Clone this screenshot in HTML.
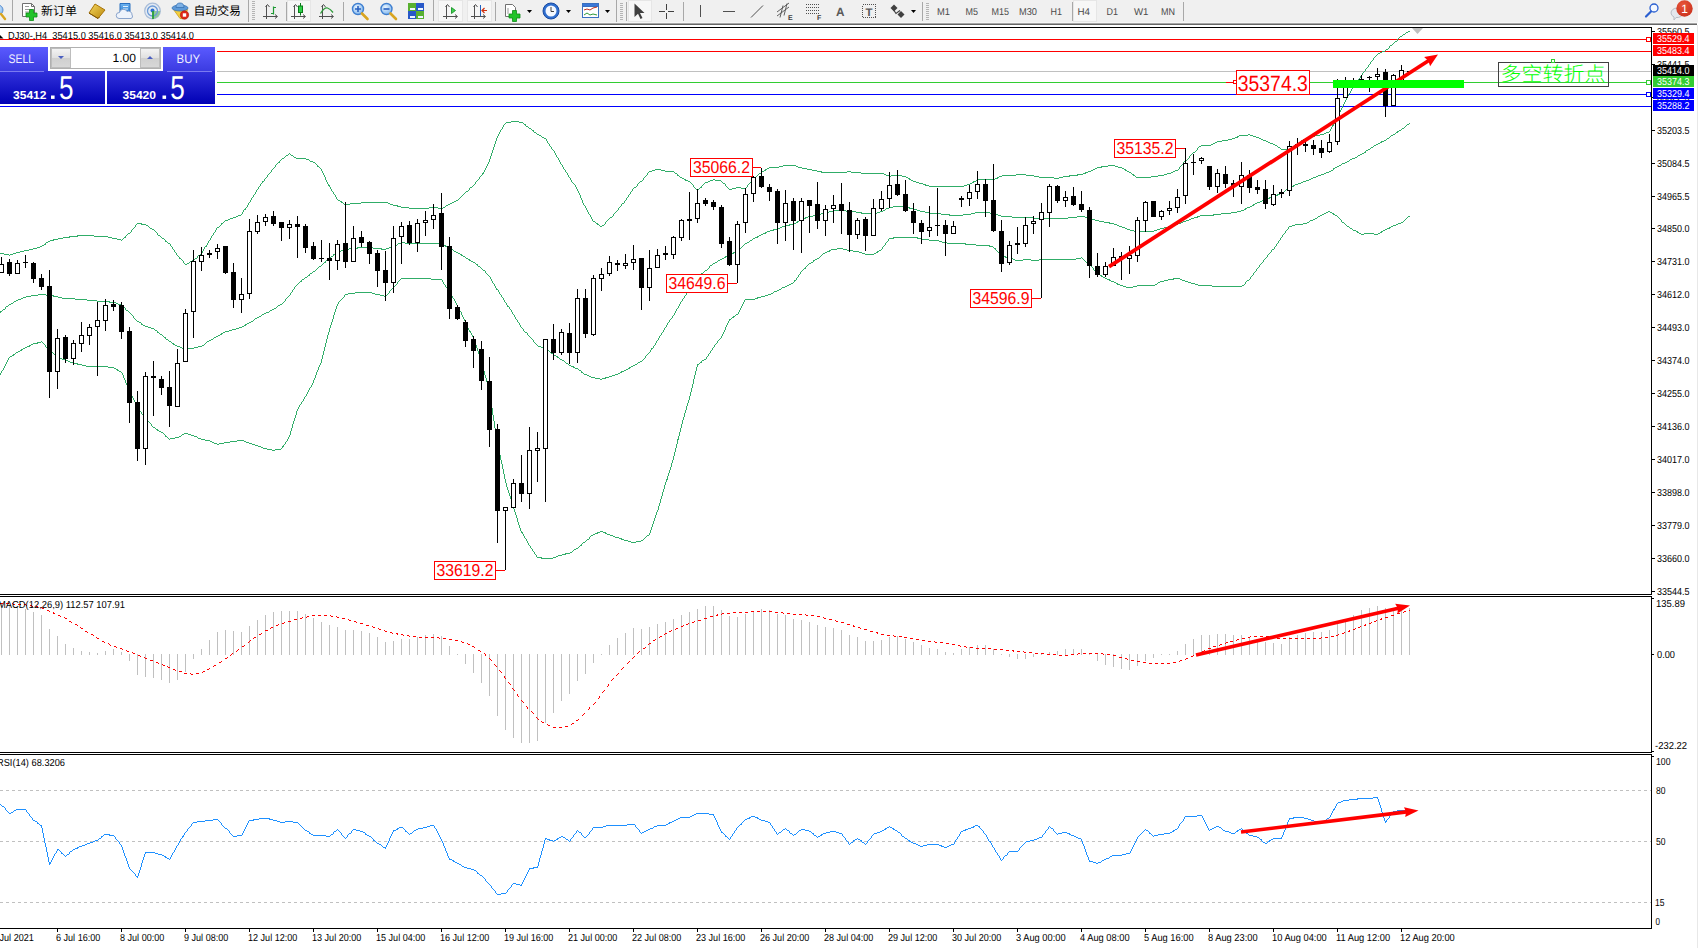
<!DOCTYPE html>
<html lang="zh-CN">
<head>
<meta charset="utf-8">
<title>DJ30-,H4</title>
<style>
html,body{margin:0;padding:0;background:#fff;overflow:hidden}
body{width:1698px;height:948px;position:relative;font-family:"Liberation Sans","Noto Sans CJK SC",sans-serif}
svg{position:absolute;left:0;top:0;display:block}
svg text{font-family:"Liberation Sans","Noto Sans CJK SC",sans-serif;white-space:pre;text-rendering:geometricPrecision}
</style>
</head>
<body>
<svg id="terminal" width="1698" height="948" viewBox="0 0 1698 948">
<defs><clipPath id="clipmain"><rect x="0" y="28" width="1651" height="566"/></clipPath></defs>
<rect x="0" y="0" width="1698" height="948" fill="#fff"/>
<rect x="1697" y="25" width="1" height="923" fill="#e8e8e8"/>
<g id="main-chart" shape-rendering="crispEdges">
<rect x="0" y="39" width="1651" height="1" fill="#ff0000" />
<rect x="0" y="51" width="1651" height="1" fill="#ff0000" />
<rect x="0" y="71" width="1651" height="1" fill="#c0c0c0" />
<rect x="0" y="82" width="1651" height="1" fill="#32cd32" />
<rect x="0" y="94" width="1651" height="1" fill="#0000ff" />
<rect x="0" y="106" width="1651" height="1" fill="#0000ff" />
<g id="bollinger" fill="none" stroke="#30ad68" stroke-width="1">
<path d="M1408 31.5h2M1406 32.5h2M1403 34.5h2M1400 36.5h2M1395 41.5h2M1390 45.5h2M1386 49.5h2M1382 51.5h3M1380 52.5h2M1378 53.5h2M1352 87.5h2M511 121.5h8M506 122.5h5M519 122.5h4M524 124.5h2M1332 125.5h2M526 126.5h2M529 128.5h2M532 130.5h2M534 132.5h2M1326 132.5h3M1324 133.5h2M537 134.5h2M1248 134.5h2M1320 134.5h4M539 135.5h2M1239 135.5h9M1250 135.5h3M1315 135.5h5M1237 136.5h2M1253 136.5h3M1311 136.5h4M542 137.5h2M1235 137.5h3M1256 137.5h3M1308 137.5h3M544 138.5h2M1232 138.5h3M1259 138.5h2M1305 138.5h3M1228 139.5h4M1261 139.5h2M1303 139.5h2M1222 140.5h6M1263 140.5h3M1301 140.5h2M1217 141.5h5M1266 141.5h2M1215 142.5h2M1268 142.5h2M1299 142.5h2M1213 143.5h2M1270 143.5h3M1297 143.5h2M1211 144.5h2M1273 144.5h2M1201 145.5h10M1275 145.5h2M1294 145.5h2M1199 146.5h2M1278 147.5h2M1291 147.5h2M1281 149.5h9M1193 152.5h2M286 155.5h2M291 155.5h2M294 157.5h2M282 158.5h2M296 158.5h10M306 159.5h3M1185 160.5h2M310 161.5h3M278 162.5h2M313 162.5h2M783 165.5h13M1108 165.5h7M317 166.5h2M779 166.5h4M796 166.5h2M1101 166.5h7M1115 166.5h3M769 167.5h10M798 167.5h4M1097 167.5h5M1118 167.5h4M767 168.5h2M802 168.5h5M1095 168.5h2M1122 168.5h2M655 169.5h6M765 169.5h2M807 169.5h5M1093 169.5h2M1124 169.5h2M652 170.5h3M661 170.5h4M764 170.5h2M812 170.5h5M1091 170.5h2M1125 170.5h2M1175 170.5h3M649 171.5h3M665 171.5h9M762 171.5h2M817 171.5h5M847 171.5h4M1088 171.5h3M1127 171.5h2M1173 171.5h2M821 172.5h26M851 172.5h10M1085 172.5h3M1129 172.5h2M1171 172.5h2M482 173.5h2M675 173.5h2M759 173.5h2M861 173.5h23M1083 173.5h3M1167 173.5h4M884 174.5h2M1016 174.5h10M1077 174.5h6M1132 174.5h2M1164 174.5h3M677 175.5h2M886 175.5h3M891 175.5h11M1002 175.5h14M1026 175.5h8M1069 175.5h9M1133 175.5h2M1158 175.5h6M889 176.5h2M902 176.5h4M999 176.5h3M1034 176.5h5M1063 176.5h7M1151 176.5h7M680 177.5h2M754 177.5h2M906 177.5h2M997 177.5h2M1039 177.5h15M1059 177.5h4M1136 177.5h15M682 178.5h2M908 178.5h2M995 178.5h3M1054 178.5h5M684 179.5h2M713 179.5h2M909 179.5h2M978 179.5h17M685 180.5h3M710 180.5h3M715 180.5h6M911 180.5h2M976 180.5h2M262 181.5h2M640 181.5h2M688 181.5h2M708 181.5h2M913 181.5h3M973 181.5h3M705 182.5h3M916 182.5h3M972 182.5h2M723 183.5h2M919 183.5h4M970 183.5h2M923 184.5h3M967 184.5h3M328 185.5h2M925 185.5h4M964 185.5h3M929 186.5h35M470 187.5h2M634 187.5h2M700 187.5h2M736 187.5h5M732 188.5h4M741 188.5h5M729 189.5h3M466 191.5h2M338 200.5h2M456 200.5h2M340 201.5h2M454 201.5h2M341 202.5h2M361 202.5h27M452 202.5h2M350 203.5h11M388 203.5h2M450 203.5h2M622 203.5h2M344 204.5h6M390 204.5h3M448 204.5h2M393 205.5h5M446 205.5h2M397 206.5h4M401 207.5h8M429 207.5h9M443 207.5h2M409 208.5h20M438 208.5h5M244 209.5h2M238 215.5h3M236 216.5h2M233 217.5h3M610 217.5h2M230 218.5h3M228 219.5h2M225 220.5h3M593 221.5h2M137 223.5h5M221 223.5h2M596 223.5h2M141 224.5h5M597 224.5h2M146 225.5h2M602 225.5h2M600 226.5h2M217 227.5h2M150 228.5h2M152 229.5h2M128 233.5h2M77 235.5h17M158 235.5h2M69 236.5h9M94 236.5h14M63 237.5h7M108 237.5h4M124 237.5h2M58 238.5h5M112 238.5h5M162 238.5h2M53 239.5h5M117 239.5h4M50 240.5h4M48 241.5h2M165 241.5h2M46 242.5h2M168 243.5h2M44 244.5h2M42 245.5h2M40 246.5h2M205 246.5h2M37 247.5h3M33 248.5h4M29 249.5h4M24 250.5h5M20 251.5h4M16 252.5h4M0 253.5h4M13 253.5h3M4 254.5h5M10 254.5h3M198 255.5h2M179 258.5h2M195 258.5h2M192 260.5h2M190 261.5h2M187 263.5h2M185 264.5h2M9.5 255v1M45.5 243v1M121.5 240v1M122.5 239v1M123.5 238v1M125.5 236v1M126.5 235v1M127.5 234v1M130.5 232v1M131.5 230v2M132.5 229v1M133.5 228v1M134.5 227v1M135.5 225v2M136.5 224v1M148.5 226v1M149.5 227v1M154.5 230v1M155.5 231v1M156.5 232v1M157.5 233v2M160.5 236v1M161.5 237v1M164.5 239v1M165.5 240v1M167.5 242v1M170.5 244v2M171.5 246v1M172.5 247v2M173.5 249v1M174.5 250v2M175.5 252v1M176.5 253v2M177.5 255v1M178.5 256v1M179.5 257v1M181.5 259v1M182.5 260v1M183.5 261v2M184.5 263v1M189.5 262v1M194.5 259v1M197.5 256v2M200.5 254v1M201.5 253v1M202.5 251v2M203.5 249v2M204.5 247v2M206.5 245v1M207.5 243v2M208.5 241v2M209.5 240v1M210.5 238v2M211.5 236v2M212.5 235v1M213.5 233v2M214.5 232v1M215.5 230v2M216.5 228v2M219.5 226v1M220.5 225v1M221.5 224v1M223.5 222v1M224.5 221v1M241.5 214v1M242.5 212v2M243.5 210v2M245.5 208v1M246.5 207v1M247.5 205v2M248.5 203v2M249.5 202v1M250.5 200v2M251.5 198v2M252.5 197v1M253.5 195v2M254.5 194v1M255.5 192v2M256.5 190v2M257.5 189v1M258.5 187v2M259.5 186v1M260.5 184v2M261.5 183v1M262.5 182v1M264.5 179v2M265.5 178v1M266.5 177v1M267.5 175v2M268.5 174v1M269.5 173v1M270.5 172v1M271.5 170v2M272.5 169v1M273.5 168v1M274.5 167v1M275.5 165v2M276.5 164v1M277.5 163v1M279.5 161v1M280.5 160v1M281.5 159v1M284.5 157v1M285.5 156v1M288.5 154v1M289.5 153v1M290.5 154v1M293.5 156v1M309.5 160v1M315.5 163v1M316.5 164v1M317.5 165v1M319.5 167v1M320.5 168v1M321.5 169v2M322.5 171v2M323.5 173v2M324.5 175v2M325.5 177v3M326.5 180v2M327.5 182v2M328.5 184v1M329.5 186v1M330.5 187v2M331.5 189v2M332.5 191v1M333.5 192v2M334.5 194v1M335.5 195v2M336.5 197v2M337.5 199v1M343.5 203v1M445.5 206v1M458.5 199v1M459.5 198v1M460.5 197v1M461.5 196v1M462.5 195v1M463.5 194v1M464.5 193v1M465.5 192v1M468.5 190v1M469.5 188v2M472.5 186v1M473.5 185v1M474.5 184v1M475.5 182v2M476.5 181v1M477.5 180v1M478.5 179v1M479.5 177v2M480.5 176v1M481.5 175v1M482.5 174v1M483.5 172v1M484.5 170v2M485.5 168v2M486.5 166v2M487.5 164v2M488.5 162v2M489.5 159v3M490.5 156v3M491.5 153v3M492.5 150v3M493.5 147v3M494.5 144v3M495.5 141v3M496.5 138v3M497.5 136v2M498.5 134v2M499.5 132v2M500.5 130v2M501.5 129v1M502.5 127v2M503.5 125v2M504.5 124v1M505.5 123v1M523.5 123v1M525.5 125v1M528.5 127v1M531.5 129v1M533.5 131v1M536.5 133v1M541.5 136v1M546.5 139v2M547.5 141v2M548.5 143v1M549.5 144v2M550.5 146v1M551.5 147v2M552.5 149v1M553.5 150v1M554.5 151v2M555.5 153v2M556.5 155v2M557.5 157v1M558.5 158v2M559.5 160v2M560.5 162v2M561.5 164v1M562.5 165v2M563.5 167v2M564.5 169v1M565.5 170v2M566.5 172v1M567.5 173v2M568.5 175v2M569.5 177v1M570.5 178v2M571.5 180v2M572.5 182v1M573.5 183v1M574.5 184v1M575.5 185v2M576.5 187v2M577.5 189v2M578.5 191v2M579.5 193v2M580.5 195v3M581.5 198v2M582.5 200v3M583.5 203v2M584.5 205v1M585.5 206v2M586.5 208v2M587.5 210v2M588.5 212v2M589.5 214v1M590.5 215v2M591.5 217v2M592.5 219v2M595.5 222v1M599.5 225v1M604.5 224v1M605.5 222v2M606.5 221v1M607.5 220v1M608.5 219v1M609.5 218v1M612.5 216v1M613.5 214v2M614.5 213v1M615.5 212v1M616.5 211v1M617.5 210v1M618.5 208v2M619.5 207v1M620.5 206v1M621.5 204v2M624.5 201v2M625.5 200v1M626.5 198v2M627.5 197v1M628.5 195v2M629.5 194v1M630.5 192v2M631.5 191v1M632.5 189v2M633.5 188v1M636.5 186v1M637.5 184v2M638.5 183v1M639.5 182v1M642.5 180v1M643.5 178v2M644.5 177v1M645.5 176v1M646.5 175v1M647.5 173v2M648.5 172v1M674.5 172v1M677.5 174v1M679.5 176v1M690.5 182v1M691.5 183v1M692.5 184v1M693.5 185v2M694.5 187v1M695.5 188v1M696.5 189v1M697.5 190v1M698.5 189v1M699.5 188v1M701.5 186v1M702.5 185v1M703.5 184v1M704.5 183v1M721.5 181v1M722.5 182v1M725.5 184v2M726.5 186v1M727.5 187v1M728.5 188v1M746.5 187v1M747.5 185v2M748.5 184v1M749.5 183v1M750.5 182v1M751.5 180v2M752.5 179v1M753.5 178v1M756.5 176v1M757.5 175v1M758.5 174v1M761.5 172v1M1131.5 173v1M1135.5 176v1M1178.5 169v1M1179.5 167v2M1180.5 166v1M1181.5 165v1M1182.5 164v1M1183.5 162v2M1184.5 161v1M1187.5 159v1M1188.5 158v1M1189.5 156v2M1190.5 155v1M1191.5 154v1M1192.5 153v1M1195.5 151v1M1196.5 150v1M1197.5 148v2M1198.5 147v1M1277.5 146v1M1280.5 148v1M1290.5 148v1M1293.5 146v1M1296.5 144v1M1301.5 141v1M1329.5 131v1M1330.5 129v2M1331.5 127v2M1332.5 126v1M1333.5 124v1M1334.5 122v2M1335.5 120v2M1336.5 118v2M1337.5 116v2M1338.5 114v2M1339.5 112v2M1340.5 110v2M1341.5 108v2M1342.5 106v2M1343.5 104v2M1344.5 102v2M1345.5 100v2M1346.5 98v2M1347.5 96v2M1348.5 94v2M1349.5 93v1M1350.5 91v2M1351.5 89v2M1352.5 88v1M1354.5 85v2M1355.5 84v1M1356.5 82v2M1357.5 81v1M1358.5 79v2M1359.5 78v1M1360.5 76v2M1361.5 75v1M1362.5 73v2M1363.5 72v1M1364.5 71v1M1365.5 69v2M1366.5 68v1M1367.5 67v1M1368.5 65v2M1369.5 64v1M1370.5 62v2M1371.5 61v1M1372.5 60v1M1373.5 58v2M1374.5 57v1M1375.5 56v1M1376.5 55v1M1377.5 54v1M1385.5 50v1M1388.5 48v1M1389.5 46v2M1392.5 44v1M1393.5 43v1M1394.5 42v1M1397.5 39v2M1398.5 38v1M1399.5 37v1M1402.5 35v1M1405.5 33v1"/>
<path d="M1407 124.5h2M1402 128.5h2M1399 130.5h2M1397 131.5h2M1396 132.5h2M1393 134.5h2M1391 135.5h2M1387 138.5h2M1384 140.5h2M1381 141.5h3M1380 142.5h2M1378 143.5h2M1376 144.5h2M1374 145.5h2M1371 147.5h2M1368 149.5h2M1366 150.5h2M1364 152.5h2M1362 153.5h2M1360 154.5h2M1358 155.5h2M1355 157.5h2M1352 158.5h3M1350 159.5h2M1347 161.5h2M1345 162.5h2M1342 163.5h3M1339 165.5h2M1337 166.5h2M1335 167.5h2M1333 168.5h2M1331 170.5h2M1329 171.5h2M1326 172.5h3M1324 173.5h2M1321 174.5h3M1318 175.5h3M1316 176.5h2M1313 177.5h3M1311 178.5h2M1309 179.5h2M1306 180.5h3M1303 181.5h3M1301 182.5h2M1298 183.5h3M1295 184.5h3M1293 185.5h2M1292 186.5h2M1289 187.5h3M1286 189.5h2M1282 192.5h2M1280 193.5h2M1277 194.5h3M1275 195.5h3M1272 196.5h3M1269 197.5h3M1268 198.5h2M1265 199.5h3M1262 200.5h3M1260 201.5h2M1257 202.5h3M1255 203.5h2M1253 204.5h2M1252 205.5h2M893 206.5h13M1250 206.5h2M889 207.5h4M906 207.5h4M1247 207.5h3M886 208.5h3M909 208.5h4M1245 208.5h2M913 209.5h4M1244 209.5h2M833 210.5h13M883 210.5h2M917 210.5h3M1241 210.5h3M829 211.5h4M846 211.5h10M880 211.5h3M920 211.5h5M1237 211.5h4M824 212.5h5M856 212.5h6M877 212.5h3M925 212.5h4M975 212.5h15M1231 212.5h6M821 213.5h3M861 213.5h16M929 213.5h12M971 213.5h4M990 213.5h5M1221 213.5h10M817 214.5h4M941 214.5h9M963 214.5h8M995 214.5h3M1213 214.5h8M813 215.5h4M949 215.5h14M998 215.5h3M1200 215.5h14M808 216.5h5M1001 216.5h11M1077 216.5h8M1197 216.5h3M805 217.5h3M1012 217.5h22M1068 217.5h9M1085 217.5h3M1194 217.5h4M804 218.5h2M1034 218.5h34M1088 218.5h4M1191 218.5h3M801 219.5h3M1092 219.5h3M1189 219.5h2M799 220.5h2M1095 220.5h4M1186 220.5h3M797 221.5h2M1099 221.5h5M1183 221.5h3M796 222.5h2M1104 222.5h6M1181 222.5h2M794 223.5h2M1109 223.5h5M1178 223.5h3M789 224.5h5M1114 224.5h3M1174 224.5h4M785 225.5h5M1117 225.5h2M1172 225.5h2M782 226.5h3M1119 226.5h3M1168 226.5h4M780 227.5h2M1122 227.5h3M1164 227.5h4M777 228.5h3M1125 228.5h2M1160 228.5h4M773 229.5h4M1127 229.5h3M1157 229.5h3M770 230.5h4M1130 230.5h4M1154 230.5h3M767 231.5h3M1134 231.5h20M765 232.5h2M763 233.5h3M761 234.5h2M759 235.5h2M757 236.5h2M755 237.5h3M753 238.5h2M750 240.5h2M401 242.5h4M747 242.5h2M398 243.5h3M405 243.5h36M745 243.5h2M441 244.5h3M394 245.5h3M444 245.5h2M391 246.5h3M445 246.5h2M357 247.5h16M389 247.5h2M447 247.5h2M349 248.5h9M373 248.5h9M386 248.5h3M449 248.5h2M344 249.5h5M381 249.5h5M451 249.5h2M341 250.5h3M338 251.5h3M454 251.5h2M735 251.5h3M336 252.5h2M456 252.5h2M733 252.5h2M458 253.5h2M731 253.5h3M333 254.5h2M460 254.5h2M729 254.5h2M461 255.5h2M727 255.5h2M331 256.5h2M463 256.5h2M725 256.5h2M724 257.5h2M328 258.5h2M466 258.5h2M722 258.5h2M468 259.5h2M720 259.5h2M469 260.5h2M718 260.5h2M471 261.5h2M324 262.5h2M473 262.5h2M715 262.5h2M713 263.5h2M476 264.5h2M710 265.5h2M319 266.5h2M478 266.5h2M483 270.5h2M705 270.5h2M313 271.5h2M310 273.5h2M701 273.5h2M308 275.5h2M698 276.5h2M305 277.5h2M302 279.5h2M300 281.5h2M496 289.5h2M689 289.5h2M38 294.5h8M31 295.5h7M46 295.5h8M26 296.5h5M53 296.5h5M23 297.5h3M58 297.5h4M21 298.5h2M62 298.5h13M18 299.5h3M75 299.5h12M16 300.5h2M87 300.5h10M14 301.5h2M97 301.5h13M109 302.5h7M11 303.5h2M116 303.5h2M9 304.5h2M118 304.5h3M280 304.5h2M121 305.5h2M278 305.5h2M6 306.5h2M507 306.5h2M274 308.5h2M3 309.5h2M272 309.5h2M126 310.5h2M270 310.5h2M0 311.5h2M266 312.5h3M264 313.5h2M262 314.5h2M259 316.5h2M257 317.5h2M255 318.5h2M137 321.5h2M251 321.5h2M139 322.5h2M249 322.5h2M247 323.5h2M141 324.5h2M245 324.5h2M143 325.5h2M244 325.5h2M145 326.5h3M242 326.5h2M148 327.5h3M239 327.5h3M151 328.5h3M236 328.5h3M232 329.5h4M155 330.5h2M229 330.5h3M225 331.5h4M157 332.5h2M223 332.5h2M525 332.5h2M221 333.5h2M160 334.5h2M220 334.5h2M218 335.5h2M216 336.5h2M164 337.5h2M214 337.5h2M166 339.5h2M211 339.5h2M209 340.5h2M169 341.5h2M207 341.5h2M172 343.5h2M173 344.5h2M175 345.5h2M202 345.5h2M177 346.5h3M198 346.5h4M538 346.5h3M180 347.5h2M194 347.5h4M541 347.5h2M182 348.5h12M543 348.5h3M651 348.5h2M546 349.5h2M551 353.5h2M554 355.5h2M556 356.5h2M557 357.5h2M560 359.5h2M562 360.5h2M640 361.5h2M638 362.5h2M566 363.5h2M635 364.5h2M569 365.5h2M633 365.5h2M571 366.5h3M631 366.5h2M573 367.5h2M629 367.5h2M575 368.5h3M628 368.5h2M626 369.5h2M579 370.5h2M624 370.5h2M621 371.5h3M581 372.5h2M620 372.5h2M618 373.5h2M584 374.5h3M615 374.5h3M587 375.5h2M612 375.5h3M589 376.5h2M609 376.5h3M591 377.5h4M605 377.5h4M595 378.5h5M602 378.5h4M600 379.5h2M0.5 312v1M2.5 310v1M5.5 307v2M8.5 305v1M13.5 302v1M123.5 306v1M124.5 307v1M125.5 308v2M128.5 311v1M129.5 312v1M130.5 313v1M131.5 314v1M132.5 315v1M133.5 316v2M134.5 318v1M135.5 319v1M136.5 320v1M141.5 323v1M154.5 329v1M157.5 331v1M159.5 333v1M162.5 335v1M163.5 336v1M165.5 338v1M168.5 340v1M171.5 342v1M204.5 344v1M205.5 343v1M206.5 342v1M213.5 338v1M253.5 320v1M254.5 319v1M261.5 315v1M269.5 311v1M276.5 307v1M277.5 306v1M282.5 303v1M283.5 302v1M284.5 301v1M285.5 299v2M286.5 298v1M287.5 297v1M288.5 296v1M289.5 295v1M290.5 293v2M291.5 292v1M292.5 290v2M293.5 289v1M294.5 287v2M295.5 286v1M296.5 285v1M297.5 284v1M298.5 283v1M299.5 282v1M301.5 280v1M304.5 278v1M307.5 276v1M309.5 274v1M312.5 272v1M315.5 270v1M316.5 269v1M317.5 268v1M318.5 267v1M321.5 265v1M322.5 264v1M323.5 263v1M325.5 261v1M326.5 260v1M327.5 259v1M330.5 257v1M333.5 255v1M335.5 253v1M397.5 244v1M453.5 250v1M465.5 257v1M475.5 263v1M477.5 265v1M480.5 267v1M481.5 268v1M482.5 269v1M485.5 271v2M486.5 273v1M487.5 274v1M488.5 275v1M489.5 276v1M490.5 277v2M491.5 279v2M492.5 281v2M493.5 283v1M494.5 284v2M495.5 286v2M496.5 288v1M498.5 290v2M499.5 292v2M500.5 294v1M501.5 295v2M502.5 297v1M503.5 298v2M504.5 300v2M505.5 302v1M506.5 303v2M507.5 305v1M509.5 307v2M510.5 309v1M511.5 310v2M512.5 312v2M513.5 314v1M514.5 315v2M515.5 317v2M516.5 319v1M517.5 320v2M518.5 322v1M519.5 323v2M520.5 325v2M521.5 327v1M522.5 328v1M523.5 329v2M524.5 331v1M527.5 333v2M528.5 335v1M529.5 336v1M530.5 337v1M531.5 338v1M532.5 339v1M533.5 340v2M534.5 342v1M535.5 343v1M536.5 344v1M537.5 345v1M548.5 350v1M549.5 351v1M550.5 352v1M553.5 354v1M559.5 358v1M564.5 361v1M565.5 362v1M568.5 364v1M578.5 369v1M581.5 371v1M583.5 373v1M637.5 363v1M642.5 360v1M643.5 359v1M644.5 358v1M645.5 356v2M646.5 355v1M647.5 354v1M648.5 353v1M649.5 352v1M650.5 350v2M651.5 349v1M653.5 346v2M654.5 345v1M655.5 343v2M656.5 341v2M657.5 340v1M658.5 338v2M659.5 336v2M660.5 335v1M661.5 333v2M662.5 332v1M663.5 330v2M664.5 328v2M665.5 327v1M666.5 325v2M667.5 323v2M668.5 322v1M669.5 320v2M670.5 319v1M671.5 318v1M672.5 316v2M673.5 315v1M674.5 313v2M675.5 311v2M676.5 309v2M677.5 308v1M678.5 306v2M679.5 304v2M680.5 302v2M681.5 301v1M682.5 299v2M683.5 298v1M684.5 296v2M685.5 295v1M686.5 293v2M687.5 292v1M688.5 290v2M690.5 288v1M691.5 286v2M692.5 285v1M693.5 283v2M694.5 282v1M695.5 280v2M696.5 278v2M697.5 277v1M700.5 275v1M701.5 274v1M703.5 272v1M704.5 271v1M707.5 269v1M708.5 268v1M709.5 266v2M712.5 264v1M717.5 261v1M738.5 250v1M739.5 249v1M740.5 248v1M741.5 247v1M742.5 246v1M743.5 245v1M744.5 244v1M749.5 241v1M752.5 239v1M885.5 209v1M1284.5 191v1M1285.5 190v1M1288.5 188v1M1333.5 169v1M1341.5 164v1M1349.5 160v1M1357.5 156v1M1365.5 151v1M1370.5 148v1M1373.5 146v1M1386.5 139v1M1389.5 137v1M1390.5 136v1M1395.5 133v1M1401.5 129v1M1404.5 127v1M1405.5 126v1M1406.5 125v1M1409.5 123v1"/>
<path d="M1328 211.5h2M1326 212.5h2M1330 212.5h2M1324 213.5h2M1332 213.5h2M1322 214.5h2M1333 214.5h2M1320 215.5h2M1335 215.5h2M1318 216.5h2M1408 216.5h2M1315 218.5h2M1313 219.5h2M1310 220.5h3M1307 222.5h2M1342 222.5h2M1401 222.5h2M1303 223.5h4M1398 223.5h3M1295 224.5h8M1396 224.5h2M1292 225.5h3M1393 225.5h3M1289 226.5h3M1347 226.5h2M1391 226.5h2M1389 227.5h2M1350 228.5h2M1387 228.5h3M1385 229.5h2M1353 230.5h3M1383 230.5h2M1356 231.5h2M1381 231.5h2M1357 232.5h2M1380 232.5h2M1359 233.5h2M1364 233.5h10M1378 233.5h2M1361 234.5h3M1374 234.5h4M893 237.5h25M889 238.5h5M917 238.5h4M921 239.5h8M929 240.5h10M939 241.5h3M942 242.5h5M947 243.5h19M965 244.5h11M976 245.5h14M989 246.5h4M837 248.5h6M994 248.5h2M831 249.5h6M843 249.5h4M1272 249.5h2M829 250.5h2M847 250.5h6M879 250.5h2M827 251.5h3M853 251.5h6M877 251.5h2M825 252.5h2M859 252.5h3M876 252.5h2M823 253.5h2M862 253.5h3M874 253.5h2M865 254.5h9M1001 256.5h5M1005 257.5h5M817 258.5h2M1010 258.5h3M1076 258.5h5M815 259.5h2M1013 259.5h2M1023 259.5h8M1039 259.5h37M813 260.5h2M1015 260.5h8M1031 260.5h8M811 262.5h2M809 263.5h2M1088 264.5h2M804 268.5h2M1097 273.5h2M1100 275.5h2M1101 276.5h2M1103 277.5h2M401 278.5h30M1105 278.5h2M1173 278.5h7M431 279.5h11M1107 279.5h3M1168 279.5h6M1180 279.5h2M794 280.5h2M1109 280.5h2M1164 280.5h4M1182 280.5h3M1247 280.5h2M1111 281.5h3M1160 281.5h4M1185 281.5h3M1114 282.5h2M1158 282.5h2M1188 282.5h3M791 283.5h2M1116 283.5h2M1191 283.5h4M789 284.5h2M1117 284.5h3M1155 284.5h2M1195 284.5h3M787 285.5h2M1120 285.5h3M1137 285.5h18M1198 285.5h14M1242 285.5h2M785 286.5h2M1123 286.5h3M1133 286.5h4M1212 286.5h30M782 287.5h3M1126 287.5h7M779 289.5h2M777 290.5h2M774 291.5h3M355 292.5h17M348 293.5h7M372 293.5h3M771 293.5h2M345 294.5h3M375 294.5h5M768 294.5h3M380 295.5h4M765 295.5h3M384 296.5h2M451 296.5h2M761 296.5h4M757 297.5h4M755 298.5h3M745 299.5h10M736 314.5h2M733 316.5h2M732 317.5h2M729 319.5h2M469 331.5h2M37 342.5h4M33 343.5h5M31 344.5h2M29 345.5h2M27 346.5h3M25 347.5h2M23 348.5h2M21 349.5h2M48 349.5h2M20 350.5h2M18 351.5h2M16 352.5h2M13 354.5h2M12 355.5h2M10 356.5h2M57 357.5h3M60 358.5h2M62 359.5h3M704 359.5h2M65 360.5h3M702 360.5h2M68 361.5h2M70 362.5h4M700 362.5h2M74 363.5h4M77 364.5h5M697 364.5h2M82 365.5h4M86 366.5h22M108 367.5h6M114 368.5h2M116 369.5h2M117 370.5h2M119 371.5h2M129 392.5h2M142 414.5h2M153 427.5h2M156 429.5h2M157 430.5h2M159 431.5h2M161 432.5h2M184 433.5h4M182 434.5h2M188 434.5h3M191 435.5h3M165 436.5h2M179 436.5h2M194 436.5h3M175 437.5h4M170 438.5h5M198 438.5h3M201 439.5h4M677 439.5h2M205 440.5h5M237 440.5h7M210 441.5h2M230 441.5h7M244 441.5h2M212 442.5h2M224 442.5h6M246 442.5h3M214 443.5h3M219 443.5h5M249 443.5h3M217 444.5h2M252 444.5h3M255 445.5h3M258 446.5h3M282 446.5h2M261 447.5h2M263 448.5h4M267 449.5h5M275 449.5h6M272 450.5h3M666 479.5h2M600 531.5h3M521 532.5h2M597 532.5h3M603 532.5h3M595 533.5h3M605 533.5h2M593 534.5h2M607 534.5h3M591 535.5h2M610 535.5h3M647 535.5h2M613 536.5h2M615 537.5h4M619 538.5h3M587 539.5h2M621 539.5h3M624 540.5h4M641 540.5h2M628 541.5h3M636 541.5h5M583 542.5h2M631 542.5h5M580 545.5h2M576 548.5h2M574 549.5h2M570 552.5h2M565 553.5h5M562 554.5h4M558 555.5h4M556 556.5h2M537 557.5h5M553 557.5h3M541 558.5h12M0.5 373v2M1.5 371v2M2.5 370v1M3.5 368v2M4.5 366v2M5.5 364v2M6.5 362v2M7.5 360v2M8.5 358v2M9.5 357v1M15.5 353v1M41.5 341v1M42.5 342v1M43.5 343v1M44.5 344v1M45.5 345v2M46.5 347v1M47.5 348v1M50.5 350v1M51.5 351v1M52.5 352v1M53.5 353v1M54.5 354v1M55.5 355v1M56.5 356v1M121.5 372v1M122.5 373v2M123.5 375v3M124.5 378v2M125.5 380v3M126.5 383v2M127.5 385v3M128.5 388v2M129.5 390v2M130.5 393v1M131.5 394v2M132.5 396v2M133.5 398v2M134.5 400v2M135.5 402v2M136.5 404v2M137.5 406v2M138.5 408v2M139.5 410v1M140.5 411v1M141.5 412v2M144.5 415v2M145.5 417v1M146.5 418v1M147.5 419v2M148.5 421v1M149.5 422v1M150.5 423v1M151.5 424v2M152.5 426v1M155.5 428v1M163.5 433v1M164.5 434v1M165.5 435v1M167.5 437v1M168.5 438v1M169.5 439v1M181.5 435v1M197.5 437v1M281.5 448v1M282.5 447v1M283.5 445v1M284.5 444v1M285.5 442v2M286.5 441v1M287.5 439v2M288.5 437v2M289.5 435v2M290.5 431v4M291.5 428v3M292.5 424v4M293.5 421v3M294.5 418v3M295.5 415v3M296.5 411v4M297.5 409v2M298.5 407v2M299.5 405v2M300.5 404v1M301.5 402v2M302.5 401v1M303.5 399v2M304.5 397v2M305.5 396v1M306.5 394v2M307.5 392v2M308.5 390v2M309.5 388v2M310.5 387v1M311.5 385v2M312.5 383v2M313.5 380v3M314.5 378v2M315.5 375v3M316.5 372v3M317.5 370v2M318.5 367v3M319.5 365v2M320.5 363v2M321.5 359v4M322.5 355v4M323.5 351v4M324.5 347v4M325.5 343v4M326.5 339v4M327.5 335v4M328.5 332v3M329.5 328v4M330.5 325v3M331.5 322v3M332.5 319v3M333.5 315v4M334.5 312v3M335.5 309v3M336.5 306v3M337.5 304v2M338.5 302v2M339.5 301v1M340.5 300v1M341.5 299v1M342.5 298v1M343.5 297v1M344.5 295v2M386.5 295v1M387.5 294v1M388.5 293v1M389.5 291v2M390.5 290v1M391.5 289v1M392.5 288v1M393.5 287v1M394.5 286v1M395.5 285v1M396.5 284v1M397.5 282v2M398.5 281v1M399.5 280v1M400.5 279v1M442.5 280v2M443.5 282v2M444.5 284v1M445.5 285v2M446.5 287v1M447.5 288v2M448.5 290v2M449.5 292v1M450.5 293v2M451.5 295v1M452.5 297v1M453.5 298v1M454.5 299v2M455.5 301v2M456.5 303v2M457.5 305v2M458.5 307v2M459.5 309v2M460.5 311v1M461.5 312v3M462.5 315v2M463.5 317v2M464.5 319v2M465.5 321v3M466.5 324v2M467.5 326v2M468.5 328v2M469.5 330v1M470.5 332v1M471.5 333v2M472.5 335v2M473.5 337v3M474.5 340v3M475.5 343v2M476.5 345v3M477.5 348v3M478.5 351v3M479.5 354v2M480.5 356v3M481.5 359v4M482.5 363v4M483.5 367v4M484.5 371v4M485.5 375v3M486.5 378v4M487.5 382v4M488.5 386v4M489.5 390v6M490.5 396v6M491.5 402v6M492.5 408v7M493.5 415v6M494.5 421v7M495.5 428v6M496.5 434v6M497.5 440v6M498.5 446v4M499.5 450v5M500.5 455v5M501.5 460v4M502.5 464v5M503.5 469v5M504.5 474v5M505.5 479v4M506.5 483v4M507.5 487v3M508.5 490v3M509.5 493v3M510.5 496v3M511.5 499v3M512.5 502v4M513.5 506v3M514.5 509v3M515.5 512v3M516.5 515v3M517.5 518v4M518.5 522v3M519.5 525v3M520.5 528v3M521.5 531v1M522.5 533v1M523.5 534v2M524.5 536v2M525.5 538v1M526.5 539v2M527.5 541v2M528.5 543v2M529.5 545v1M530.5 546v2M531.5 548v1M532.5 549v2M533.5 551v1M534.5 552v2M535.5 554v1M536.5 555v2M572.5 551v1M573.5 550v1M578.5 547v1M579.5 546v1M581.5 544v1M582.5 543v1M585.5 541v1M586.5 540v1M589.5 537v2M590.5 536v1M643.5 539v1M644.5 538v1M645.5 537v1M646.5 536v1M649.5 533v2M650.5 530v3M651.5 527v3M652.5 524v3M653.5 521v3M654.5 518v3M655.5 515v3M656.5 512v3M657.5 510v2M658.5 506v4M659.5 503v3M660.5 499v4M661.5 496v3M662.5 492v4M663.5 489v3M664.5 485v4M665.5 482v3M666.5 480v2M667.5 476v3M668.5 473v3M669.5 470v3M670.5 467v3M671.5 463v4M672.5 460v3M673.5 456v4M674.5 452v4M675.5 448v4M676.5 444v4M677.5 440v4M678.5 436v3M679.5 432v4M680.5 428v4M681.5 424v4M682.5 420v4M683.5 417v3M684.5 413v4M685.5 410v3M686.5 406v4M687.5 403v3M688.5 400v3M689.5 396v4M690.5 392v4M691.5 388v4M692.5 384v4M693.5 379v5M694.5 375v4M695.5 371v4M696.5 367v4M697.5 365v2M699.5 363v1M701.5 361v1M706.5 357v2M707.5 356v1M708.5 354v2M709.5 353v1M710.5 351v2M711.5 350v1M712.5 348v2M713.5 347v1M714.5 345v2M715.5 344v1M716.5 343v1M717.5 341v2M718.5 340v1M719.5 339v1M720.5 338v1M721.5 336v2M722.5 334v2M723.5 332v2M724.5 330v2M725.5 327v3M726.5 325v2M727.5 323v2M728.5 321v2M729.5 320v1M731.5 318v1M735.5 315v1M738.5 312v2M739.5 310v2M740.5 308v2M741.5 306v2M742.5 304v2M743.5 302v2M744.5 300v2M773.5 292v1M781.5 288v1M793.5 282v1M794.5 281v1M796.5 278v2M797.5 277v1M798.5 275v2M799.5 274v1M800.5 272v2M801.5 271v1M802.5 270v1M803.5 269v1M805.5 267v1M806.5 266v1M807.5 265v1M808.5 264v1M813.5 261v1M819.5 257v1M820.5 256v1M821.5 255v1M822.5 254v1M881.5 249v1M882.5 247v2M883.5 246v1M884.5 245v1M885.5 243v2M886.5 242v1M887.5 241v1M888.5 239v2M993.5 247v1M995.5 249v1M996.5 250v1M997.5 251v1M998.5 252v1M999.5 253v2M1000.5 255v1M1081.5 257v1M1082.5 258v1M1083.5 259v1M1084.5 260v1M1085.5 261v1M1086.5 262v1M1087.5 263v1M1090.5 265v1M1091.5 266v1M1092.5 267v1M1093.5 268v2M1094.5 270v1M1095.5 271v1M1096.5 272v1M1099.5 274v1M1157.5 283v1M1244.5 284v1M1245.5 282v2M1246.5 281v1M1249.5 279v1M1250.5 277v2M1251.5 276v1M1252.5 275v1M1253.5 273v2M1254.5 272v1M1255.5 271v1M1256.5 269v2M1257.5 268v1M1258.5 267v1M1259.5 265v2M1260.5 264v1M1261.5 263v1M1262.5 262v1M1263.5 260v2M1264.5 259v1M1265.5 258v1M1266.5 257v1M1267.5 255v2M1268.5 254v1M1269.5 253v1M1270.5 252v1M1271.5 250v2M1274.5 247v2M1275.5 246v1M1276.5 244v2M1277.5 243v1M1278.5 241v2M1279.5 240v1M1280.5 238v2M1281.5 237v1M1282.5 235v2M1283.5 234v1M1284.5 233v1M1285.5 231v2M1286.5 230v1M1287.5 229v1M1288.5 227v2M1309.5 221v1M1317.5 217v1M1337.5 216v1M1338.5 217v1M1339.5 218v1M1340.5 219v1M1341.5 220v2M1344.5 223v1M1345.5 224v1M1346.5 225v1M1349.5 227v1M1352.5 229v1M1403.5 221v1M1404.5 220v1M1405.5 219v1M1406.5 218v1M1407.5 217v1"/>
</g>
<g id="candles">
<rect x="1" y="257" width="1" height="16" fill="#000"/>
<rect x="-1" y="264" width="5" height="9" fill="#000"/><rect x="0" y="265" width="3" height="7" fill="#fff"/>
<rect x="9" y="259" width="1" height="17" fill="#000"/>
<rect x="7" y="262" width="5" height="12" fill="#000"/>
<rect x="17" y="260" width="1" height="14" fill="#000"/>
<rect x="15" y="263" width="5" height="11" fill="#000"/><rect x="16" y="264" width="3" height="9" fill="#fff"/>
<rect x="25" y="255" width="1" height="13" fill="#000"/>
<rect x="23" y="262" width="5" height="1" fill="#000"/>
<rect x="33" y="262" width="1" height="21" fill="#000"/>
<rect x="31" y="263" width="5" height="16" fill="#000"/>
<rect x="41" y="274" width="1" height="16" fill="#000"/>
<rect x="39" y="278" width="5" height="9" fill="#000"/>
<rect x="49" y="270" width="1" height="128" fill="#000"/>
<rect x="47" y="286" width="5" height="86" fill="#000"/>
<rect x="57" y="329" width="1" height="60" fill="#000"/>
<rect x="55" y="338" width="5" height="34" fill="#000"/><rect x="56" y="339" width="3" height="32" fill="#fff"/>
<rect x="65" y="335" width="1" height="28" fill="#000"/>
<rect x="63" y="337" width="5" height="22" fill="#000"/>
<rect x="73" y="340" width="1" height="25" fill="#000"/>
<rect x="71" y="343" width="5" height="16" fill="#000"/><rect x="72" y="344" width="3" height="14" fill="#fff"/>
<rect x="81" y="322" width="1" height="30" fill="#000"/>
<rect x="79" y="335" width="5" height="9" fill="#000"/><rect x="80" y="336" width="3" height="7" fill="#fff"/>
<rect x="89" y="324" width="1" height="21" fill="#000"/>
<rect x="87" y="327" width="5" height="9" fill="#000"/><rect x="88" y="328" width="3" height="7" fill="#fff"/>
<rect x="97" y="302" width="1" height="74" fill="#000"/>
<rect x="95" y="320" width="5" height="7" fill="#000"/><rect x="96" y="321" width="3" height="5" fill="#fff"/>
<rect x="105" y="299" width="1" height="32" fill="#000"/>
<rect x="103" y="305" width="5" height="16" fill="#000"/><rect x="104" y="306" width="3" height="14" fill="#fff"/>
<rect x="113" y="300" width="1" height="11" fill="#000"/>
<rect x="111" y="304" width="5" height="3" fill="#000"/>
<rect x="121" y="302" width="1" height="37" fill="#000"/>
<rect x="119" y="305" width="5" height="27" fill="#000"/>
<rect x="129" y="327" width="1" height="96" fill="#000"/>
<rect x="127" y="331" width="5" height="72" fill="#000"/>
<rect x="137" y="391" width="1" height="70" fill="#000"/>
<rect x="135" y="402" width="5" height="47" fill="#000"/>
<rect x="145" y="372" width="1" height="93" fill="#000"/>
<rect x="143" y="376" width="5" height="73" fill="#000"/><rect x="144" y="377" width="3" height="71" fill="#fff"/>
<rect x="153" y="361" width="1" height="55" fill="#000"/>
<rect x="151" y="376" width="5" height="2" fill="#000"/>
<rect x="161" y="376" width="1" height="19" fill="#000"/>
<rect x="159" y="379" width="5" height="9" fill="#000"/>
<rect x="169" y="371" width="1" height="56" fill="#000"/>
<rect x="167" y="387" width="5" height="19" fill="#000"/>
<rect x="177" y="349" width="1" height="58" fill="#000"/>
<rect x="175" y="363" width="5" height="44" fill="#000"/><rect x="176" y="364" width="3" height="42" fill="#fff"/>
<rect x="185" y="309" width="1" height="53" fill="#000"/>
<rect x="183" y="313" width="5" height="49" fill="#000"/><rect x="184" y="314" width="3" height="47" fill="#fff"/>
<rect x="193" y="250" width="1" height="88" fill="#000"/>
<rect x="191" y="261" width="5" height="51" fill="#000"/><rect x="192" y="262" width="3" height="49" fill="#fff"/>
<rect x="201" y="247" width="1" height="24" fill="#000"/>
<rect x="199" y="255" width="5" height="7" fill="#000"/><rect x="200" y="256" width="3" height="5" fill="#fff"/>
<rect x="209" y="250" width="1" height="8" fill="#000"/>
<rect x="207" y="253" width="5" height="2" fill="#000"/>
<rect x="217" y="244" width="1" height="15" fill="#000"/>
<rect x="215" y="248" width="5" height="4" fill="#000"/><rect x="216" y="249" width="3" height="2" fill="#fff"/>
<rect x="225" y="246" width="1" height="28" fill="#000"/>
<rect x="223" y="246" width="5" height="27" fill="#000"/>
<rect x="233" y="263" width="1" height="45" fill="#000"/>
<rect x="231" y="272" width="5" height="28" fill="#000"/>
<rect x="241" y="278" width="1" height="35" fill="#000"/>
<rect x="239" y="294" width="5" height="6" fill="#000"/><rect x="240" y="295" width="3" height="4" fill="#fff"/>
<rect x="249" y="219" width="1" height="80" fill="#000"/>
<rect x="247" y="231" width="5" height="63" fill="#000"/><rect x="248" y="232" width="3" height="61" fill="#fff"/>
<rect x="257" y="215" width="1" height="19" fill="#000"/>
<rect x="255" y="222" width="5" height="10" fill="#000"/><rect x="256" y="223" width="3" height="8" fill="#fff"/>
<rect x="265" y="214" width="1" height="12" fill="#000"/>
<rect x="263" y="217" width="5" height="5" fill="#000"/><rect x="264" y="218" width="3" height="3" fill="#fff"/>
<rect x="273" y="211" width="1" height="15" fill="#000"/>
<rect x="271" y="216" width="5" height="8" fill="#000"/>
<rect x="281" y="222" width="1" height="19" fill="#000"/>
<rect x="279" y="222" width="5" height="6" fill="#000"/>
<rect x="289" y="220" width="1" height="19" fill="#000"/>
<rect x="287" y="224" width="5" height="4" fill="#000"/><rect x="288" y="225" width="3" height="2" fill="#fff"/>
<rect x="297" y="216" width="1" height="42" fill="#000"/>
<rect x="295" y="224" width="5" height="3" fill="#000"/>
<rect x="305" y="224" width="1" height="29" fill="#000"/>
<rect x="303" y="226" width="5" height="22" fill="#000"/>
<rect x="313" y="242" width="1" height="18" fill="#000"/>
<rect x="311" y="246" width="5" height="13" fill="#000"/>
<rect x="321" y="240" width="1" height="22" fill="#000"/>
<rect x="319" y="258" width="5" height="1" fill="#000"/>
<rect x="329" y="243" width="1" height="37" fill="#000"/>
<rect x="327" y="258" width="5" height="3" fill="#000"/>
<rect x="337" y="240" width="1" height="30" fill="#000"/>
<rect x="335" y="244" width="5" height="17" fill="#000"/><rect x="336" y="245" width="3" height="15" fill="#fff"/>
<rect x="345" y="202" width="1" height="66" fill="#000"/>
<rect x="343" y="243" width="5" height="19" fill="#000"/>
<rect x="353" y="226" width="1" height="36" fill="#000"/>
<rect x="351" y="238" width="5" height="24" fill="#000"/><rect x="352" y="239" width="3" height="22" fill="#fff"/>
<rect x="361" y="231" width="1" height="16" fill="#000"/>
<rect x="359" y="237" width="5" height="6" fill="#000"/>
<rect x="369" y="241" width="1" height="23" fill="#000"/>
<rect x="367" y="242" width="5" height="12" fill="#000"/>
<rect x="377" y="250" width="1" height="37" fill="#000"/>
<rect x="375" y="253" width="5" height="18" fill="#000"/>
<rect x="385" y="251" width="1" height="50" fill="#000"/>
<rect x="383" y="270" width="5" height="13" fill="#000"/>
<rect x="393" y="226" width="1" height="67" fill="#000"/>
<rect x="391" y="238" width="5" height="45" fill="#000"/><rect x="392" y="239" width="3" height="43" fill="#fff"/>
<rect x="401" y="222" width="1" height="42" fill="#000"/>
<rect x="399" y="226" width="5" height="11" fill="#000"/><rect x="400" y="227" width="3" height="9" fill="#fff"/>
<rect x="409" y="221" width="1" height="24" fill="#000"/>
<rect x="407" y="225" width="5" height="18" fill="#000"/>
<rect x="417" y="219" width="1" height="33" fill="#000"/>
<rect x="415" y="223" width="5" height="20" fill="#000"/><rect x="416" y="224" width="3" height="18" fill="#fff"/>
<rect x="425" y="211" width="1" height="25" fill="#000"/>
<rect x="423" y="220" width="5" height="3" fill="#000"/><rect x="424" y="221" width="3" height="1" fill="#fff"/>
<rect x="433" y="204" width="1" height="25" fill="#000"/>
<rect x="431" y="215" width="5" height="5" fill="#000"/><rect x="432" y="216" width="3" height="3" fill="#fff"/>
<rect x="441" y="193" width="1" height="77" fill="#000"/>
<rect x="439" y="213" width="5" height="34" fill="#000"/>
<rect x="449" y="237" width="1" height="82" fill="#000"/>
<rect x="447" y="246" width="5" height="63" fill="#000"/>
<rect x="457" y="305" width="1" height="15" fill="#000"/>
<rect x="455" y="307" width="5" height="12" fill="#000"/>
<rect x="465" y="320" width="1" height="27" fill="#000"/>
<rect x="463" y="322" width="5" height="19" fill="#000"/>
<rect x="473" y="336" width="1" height="32" fill="#000"/>
<rect x="471" y="339" width="5" height="12" fill="#000"/>
<rect x="481" y="341" width="1" height="49" fill="#000"/>
<rect x="479" y="349" width="5" height="32" fill="#000"/>
<rect x="489" y="357" width="1" height="90" fill="#000"/>
<rect x="487" y="381" width="5" height="49" fill="#000"/>
<rect x="497" y="424" width="1" height="119" fill="#000"/>
<rect x="495" y="429" width="5" height="82" fill="#000"/>
<rect x="505" y="507" width="1" height="63" fill="#000"/>
<rect x="503" y="507" width="5" height="4" fill="#000"/><rect x="504" y="508" width="3" height="2" fill="#fff"/>
<rect x="513" y="479" width="1" height="29" fill="#000"/>
<rect x="511" y="483" width="5" height="25" fill="#000"/><rect x="512" y="484" width="3" height="23" fill="#fff"/>
<rect x="521" y="455" width="1" height="47" fill="#000"/>
<rect x="519" y="483" width="5" height="11" fill="#000"/>
<rect x="529" y="427" width="1" height="82" fill="#000"/>
<rect x="527" y="450" width="5" height="44" fill="#000"/><rect x="528" y="451" width="3" height="42" fill="#fff"/>
<rect x="537" y="432" width="1" height="50" fill="#000"/>
<rect x="535" y="448" width="5" height="3" fill="#000"/><rect x="536" y="449" width="3" height="1" fill="#fff"/>
<rect x="545" y="339" width="1" height="163" fill="#000"/>
<rect x="543" y="339" width="5" height="110" fill="#000"/><rect x="544" y="340" width="3" height="108" fill="#fff"/>
<rect x="553" y="324" width="1" height="36" fill="#000"/>
<rect x="551" y="339" width="5" height="14" fill="#000"/>
<rect x="561" y="329" width="1" height="26" fill="#000"/>
<rect x="559" y="332" width="5" height="21" fill="#000"/><rect x="560" y="333" width="3" height="19" fill="#fff"/>
<rect x="569" y="323" width="1" height="41" fill="#000"/>
<rect x="567" y="333" width="5" height="20" fill="#000"/>
<rect x="577" y="289" width="1" height="74" fill="#000"/>
<rect x="575" y="298" width="5" height="55" fill="#000"/><rect x="576" y="299" width="3" height="53" fill="#fff"/>
<rect x="585" y="289" width="1" height="49" fill="#000"/>
<rect x="583" y="298" width="5" height="36" fill="#000"/>
<rect x="593" y="275" width="1" height="61" fill="#000"/>
<rect x="591" y="278" width="5" height="57" fill="#000"/><rect x="592" y="279" width="3" height="55" fill="#fff"/>
<rect x="601" y="268" width="1" height="23" fill="#000"/>
<rect x="599" y="274" width="5" height="5" fill="#000"/><rect x="600" y="275" width="3" height="3" fill="#fff"/>
<rect x="609" y="256" width="1" height="20" fill="#000"/>
<rect x="607" y="262" width="5" height="12" fill="#000"/><rect x="608" y="263" width="3" height="10" fill="#fff"/>
<rect x="617" y="260" width="1" height="11" fill="#000"/>
<rect x="615" y="263" width="5" height="2" fill="#000"/>
<rect x="625" y="254" width="1" height="15" fill="#000"/>
<rect x="623" y="263" width="5" height="3" fill="#000"/><rect x="624" y="264" width="3" height="1" fill="#fff"/>
<rect x="633" y="245" width="1" height="25" fill="#000"/>
<rect x="631" y="259" width="5" height="4" fill="#000"/><rect x="632" y="260" width="3" height="2" fill="#fff"/>
<rect x="641" y="258" width="1" height="52" fill="#000"/>
<rect x="639" y="258" width="5" height="30" fill="#000"/>
<rect x="649" y="250" width="1" height="51" fill="#000"/>
<rect x="647" y="268" width="5" height="20" fill="#000"/><rect x="648" y="269" width="3" height="18" fill="#fff"/>
<rect x="657" y="249" width="1" height="19" fill="#000"/>
<rect x="655" y="255" width="5" height="13" fill="#000"/><rect x="656" y="256" width="3" height="11" fill="#fff"/>
<rect x="665" y="246" width="1" height="14" fill="#000"/>
<rect x="663" y="253" width="5" height="2" fill="#000"/>
<rect x="673" y="236" width="1" height="23" fill="#000"/>
<rect x="671" y="237" width="5" height="18" fill="#000"/><rect x="672" y="238" width="3" height="16" fill="#fff"/>
<rect x="681" y="219" width="1" height="22" fill="#000"/>
<rect x="679" y="220" width="5" height="18" fill="#000"/><rect x="680" y="221" width="3" height="16" fill="#fff"/>
<rect x="689" y="192" width="1" height="48" fill="#000"/>
<rect x="687" y="219" width="5" height="2" fill="#000"/>
<rect x="697" y="189" width="1" height="34" fill="#000"/>
<rect x="695" y="203" width="5" height="16" fill="#000"/><rect x="696" y="204" width="3" height="14" fill="#fff"/>
<rect x="705" y="198" width="1" height="8" fill="#000"/>
<rect x="703" y="200" width="5" height="4" fill="#000"/>
<rect x="713" y="200" width="1" height="10" fill="#000"/>
<rect x="711" y="202" width="5" height="5" fill="#000"/>
<rect x="721" y="205" width="1" height="43" fill="#000"/>
<rect x="719" y="207" width="5" height="37" fill="#000"/>
<rect x="729" y="237" width="1" height="29" fill="#000"/>
<rect x="727" y="241" width="5" height="24" fill="#000"/>
<rect x="737" y="221" width="1" height="62" fill="#000"/>
<rect x="735" y="224" width="5" height="41" fill="#000"/><rect x="736" y="225" width="3" height="39" fill="#fff"/>
<rect x="745" y="188" width="1" height="45" fill="#000"/>
<rect x="743" y="194" width="5" height="29" fill="#000"/><rect x="744" y="195" width="3" height="27" fill="#fff"/>
<rect x="753" y="176" width="1" height="26" fill="#000"/>
<rect x="751" y="177" width="5" height="17" fill="#000"/><rect x="752" y="178" width="3" height="15" fill="#fff"/>
<rect x="761" y="168" width="1" height="20" fill="#000"/>
<rect x="759" y="176" width="5" height="11" fill="#000"/>
<rect x="769" y="184" width="1" height="17" fill="#000"/>
<rect x="767" y="187" width="5" height="5" fill="#000"/>
<rect x="777" y="189" width="1" height="55" fill="#000"/>
<rect x="775" y="191" width="5" height="32" fill="#000"/>
<rect x="785" y="190" width="1" height="51" fill="#000"/>
<rect x="783" y="203" width="5" height="20" fill="#000"/><rect x="784" y="204" width="3" height="18" fill="#fff"/>
<rect x="793" y="198" width="1" height="52" fill="#000"/>
<rect x="791" y="201" width="5" height="20" fill="#000"/>
<rect x="801" y="198" width="1" height="55" fill="#000"/>
<rect x="799" y="201" width="5" height="20" fill="#000"/><rect x="800" y="202" width="3" height="18" fill="#fff"/>
<rect x="809" y="200" width="1" height="33" fill="#000"/>
<rect x="807" y="200" width="5" height="6" fill="#000"/>
<rect x="817" y="182" width="1" height="47" fill="#000"/>
<rect x="815" y="204" width="5" height="17" fill="#000"/>
<rect x="825" y="205" width="1" height="31" fill="#000"/>
<rect x="823" y="209" width="5" height="12" fill="#000"/><rect x="824" y="210" width="3" height="10" fill="#fff"/>
<rect x="833" y="195" width="1" height="28" fill="#000"/>
<rect x="831" y="205" width="5" height="4" fill="#000"/><rect x="832" y="206" width="3" height="2" fill="#fff"/>
<rect x="841" y="183" width="1" height="51" fill="#000"/>
<rect x="839" y="204" width="5" height="7" fill="#000"/>
<rect x="849" y="202" width="1" height="50" fill="#000"/>
<rect x="847" y="210" width="5" height="25" fill="#000"/>
<rect x="857" y="218" width="1" height="21" fill="#000"/>
<rect x="855" y="220" width="5" height="15" fill="#000"/><rect x="856" y="221" width="3" height="13" fill="#fff"/>
<rect x="865" y="217" width="1" height="34" fill="#000"/>
<rect x="863" y="219" width="5" height="17" fill="#000"/>
<rect x="873" y="199" width="1" height="37" fill="#000"/>
<rect x="871" y="208" width="5" height="28" fill="#000"/><rect x="872" y="209" width="3" height="26" fill="#fff"/>
<rect x="881" y="191" width="1" height="20" fill="#000"/>
<rect x="879" y="199" width="5" height="10" fill="#000"/><rect x="880" y="200" width="3" height="8" fill="#fff"/>
<rect x="889" y="172" width="1" height="36" fill="#000"/>
<rect x="887" y="185" width="5" height="14" fill="#000"/><rect x="888" y="186" width="3" height="12" fill="#fff"/>
<rect x="897" y="170" width="1" height="26" fill="#000"/>
<rect x="895" y="184" width="5" height="11" fill="#000"/>
<rect x="905" y="180" width="1" height="32" fill="#000"/>
<rect x="903" y="194" width="5" height="17" fill="#000"/>
<rect x="913" y="203" width="1" height="31" fill="#000"/>
<rect x="911" y="211" width="5" height="12" fill="#000"/>
<rect x="921" y="220" width="1" height="24" fill="#000"/>
<rect x="919" y="223" width="5" height="9" fill="#000"/>
<rect x="929" y="206" width="1" height="31" fill="#000"/>
<rect x="927" y="227" width="5" height="4" fill="#000"/><rect x="928" y="228" width="3" height="2" fill="#fff"/>
<rect x="937" y="188" width="1" height="48" fill="#000"/>
<rect x="935" y="225" width="5" height="1" fill="#000"/>
<rect x="945" y="220" width="1" height="36" fill="#000"/>
<rect x="943" y="225" width="5" height="9" fill="#000"/>
<rect x="953" y="221" width="1" height="13" fill="#000"/>
<rect x="951" y="226" width="5" height="8" fill="#000"/><rect x="952" y="227" width="3" height="6" fill="#fff"/>
<rect x="961" y="196" width="1" height="11" fill="#000"/>
<rect x="959" y="198" width="5" height="2" fill="#000"/>
<rect x="969" y="185" width="1" height="21" fill="#000"/>
<rect x="967" y="192" width="5" height="7" fill="#000"/><rect x="968" y="193" width="3" height="5" fill="#fff"/>
<rect x="977" y="171" width="1" height="28" fill="#000"/>
<rect x="975" y="184" width="5" height="8" fill="#000"/><rect x="976" y="185" width="3" height="6" fill="#fff"/>
<rect x="985" y="179" width="1" height="38" fill="#000"/>
<rect x="983" y="184" width="5" height="17" fill="#000"/>
<rect x="993" y="164" width="1" height="68" fill="#000"/>
<rect x="991" y="200" width="5" height="31" fill="#000"/>
<rect x="1001" y="220" width="1" height="52" fill="#000"/>
<rect x="999" y="231" width="5" height="33" fill="#000"/>
<rect x="1009" y="241" width="1" height="24" fill="#000"/>
<rect x="1007" y="245" width="5" height="18" fill="#000"/><rect x="1008" y="246" width="3" height="16" fill="#fff"/>
<rect x="1017" y="227" width="1" height="27" fill="#000"/>
<rect x="1015" y="243" width="5" height="2" fill="#000"/>
<rect x="1025" y="217" width="1" height="30" fill="#000"/>
<rect x="1023" y="225" width="5" height="19" fill="#000"/><rect x="1024" y="226" width="3" height="17" fill="#fff"/>
<rect x="1033" y="216" width="1" height="18" fill="#000"/>
<rect x="1031" y="221" width="5" height="3" fill="#000"/><rect x="1032" y="222" width="3" height="1" fill="#fff"/>
<rect x="1041" y="203" width="1" height="95" fill="#000"/>
<rect x="1039" y="212" width="5" height="8" fill="#000"/><rect x="1040" y="213" width="3" height="6" fill="#fff"/>
<rect x="1049" y="184" width="1" height="43" fill="#000"/>
<rect x="1047" y="186" width="5" height="27" fill="#000"/><rect x="1048" y="187" width="3" height="25" fill="#fff"/>
<rect x="1057" y="185" width="1" height="18" fill="#000"/>
<rect x="1055" y="186" width="5" height="15" fill="#000"/>
<rect x="1065" y="191" width="1" height="16" fill="#000"/>
<rect x="1063" y="197" width="5" height="4" fill="#000"/><rect x="1064" y="198" width="3" height="2" fill="#fff"/>
<rect x="1073" y="187" width="1" height="19" fill="#000"/>
<rect x="1071" y="196" width="5" height="9" fill="#000"/>
<rect x="1081" y="191" width="1" height="21" fill="#000"/>
<rect x="1079" y="204" width="5" height="6" fill="#000"/>
<rect x="1089" y="207" width="1" height="71" fill="#000"/>
<rect x="1087" y="210" width="5" height="56" fill="#000"/>
<rect x="1097" y="253" width="1" height="24" fill="#000"/>
<rect x="1095" y="266" width="5" height="9" fill="#000"/>
<rect x="1105" y="262" width="1" height="15" fill="#000"/>
<rect x="1103" y="266" width="5" height="9" fill="#000"/><rect x="1104" y="267" width="3" height="7" fill="#fff"/>
<rect x="1113" y="248" width="1" height="18" fill="#000"/>
<rect x="1111" y="257" width="5" height="9" fill="#000"/><rect x="1112" y="258" width="3" height="7" fill="#fff"/>
<rect x="1121" y="252" width="1" height="28" fill="#000"/>
<rect x="1119" y="256" width="5" height="2" fill="#000"/>
<rect x="1129" y="246" width="1" height="28" fill="#000"/>
<rect x="1127" y="255" width="5" height="4" fill="#000"/><rect x="1128" y="256" width="3" height="2" fill="#fff"/>
<rect x="1137" y="217" width="1" height="45" fill="#000"/>
<rect x="1135" y="220" width="5" height="36" fill="#000"/><rect x="1136" y="221" width="3" height="34" fill="#fff"/>
<rect x="1145" y="201" width="1" height="31" fill="#000"/>
<rect x="1143" y="202" width="5" height="19" fill="#000"/><rect x="1144" y="203" width="3" height="17" fill="#fff"/>
<rect x="1153" y="201" width="1" height="16" fill="#000"/>
<rect x="1151" y="201" width="5" height="16" fill="#000"/>
<rect x="1161" y="210" width="1" height="10" fill="#000"/>
<rect x="1159" y="211" width="5" height="6" fill="#000"/><rect x="1160" y="212" width="3" height="4" fill="#fff"/>
<rect x="1169" y="201" width="1" height="14" fill="#000"/>
<rect x="1167" y="208" width="5" height="3" fill="#000"/><rect x="1168" y="209" width="3" height="1" fill="#fff"/>
<rect x="1177" y="189" width="1" height="24" fill="#000"/>
<rect x="1175" y="197" width="5" height="11" fill="#000"/><rect x="1176" y="198" width="3" height="9" fill="#fff"/>
<rect x="1185" y="148" width="1" height="56" fill="#000"/>
<rect x="1183" y="163" width="5" height="33" fill="#000"/><rect x="1184" y="164" width="3" height="31" fill="#fff"/>
<rect x="1193" y="154" width="1" height="21" fill="#000"/>
<rect x="1191" y="162" width="5" height="1" fill="#000"/>
<rect x="1201" y="157" width="1" height="7" fill="#000"/>
<rect x="1199" y="158" width="5" height="3" fill="#000"/><rect x="1200" y="159" width="3" height="1" fill="#fff"/>
<rect x="1209" y="166" width="1" height="24" fill="#000"/>
<rect x="1207" y="166" width="5" height="21" fill="#000"/>
<rect x="1217" y="169" width="1" height="24" fill="#000"/>
<rect x="1215" y="173" width="5" height="14" fill="#000"/><rect x="1216" y="174" width="3" height="12" fill="#fff"/>
<rect x="1225" y="166" width="1" height="22" fill="#000"/>
<rect x="1223" y="174" width="5" height="10" fill="#000"/>
<rect x="1233" y="180" width="1" height="17" fill="#000"/>
<rect x="1231" y="183" width="5" height="3" fill="#000"/>
<rect x="1241" y="162" width="1" height="42" fill="#000"/>
<rect x="1239" y="175" width="5" height="12" fill="#000"/><rect x="1240" y="176" width="3" height="10" fill="#fff"/>
<rect x="1249" y="170" width="1" height="23" fill="#000"/>
<rect x="1247" y="175" width="5" height="13" fill="#000"/>
<rect x="1257" y="180" width="1" height="14" fill="#000"/>
<rect x="1255" y="187" width="5" height="3" fill="#000"/>
<rect x="1265" y="180" width="1" height="29" fill="#000"/>
<rect x="1263" y="189" width="5" height="15" fill="#000"/>
<rect x="1273" y="185" width="1" height="21" fill="#000"/>
<rect x="1271" y="194" width="5" height="11" fill="#000"/><rect x="1272" y="195" width="3" height="9" fill="#fff"/>
<rect x="1281" y="189" width="1" height="9" fill="#000"/>
<rect x="1279" y="192" width="5" height="2" fill="#000"/>
<rect x="1289" y="141" width="1" height="55" fill="#000"/>
<rect x="1287" y="146" width="5" height="45" fill="#000"/><rect x="1288" y="147" width="3" height="43" fill="#fff"/>
<rect x="1297" y="138" width="1" height="17" fill="#000"/>
<rect x="1295" y="144" width="5" height="1" fill="#000"/>
<rect x="1305" y="141" width="1" height="11" fill="#000"/>
<rect x="1303" y="144" width="5" height="2" fill="#000"/>
<rect x="1313" y="140" width="1" height="15" fill="#000"/>
<rect x="1311" y="145" width="5" height="4" fill="#000"/>
<rect x="1321" y="140" width="1" height="18" fill="#000"/>
<rect x="1319" y="148" width="5" height="5" fill="#000"/>
<rect x="1329" y="134" width="1" height="19" fill="#000"/>
<rect x="1327" y="142" width="5" height="10" fill="#000"/><rect x="1328" y="143" width="3" height="8" fill="#fff"/>
<rect x="1337" y="79" width="1" height="66" fill="#000"/>
<rect x="1335" y="98" width="5" height="44" fill="#000"/><rect x="1336" y="99" width="3" height="42" fill="#fff"/>
<rect x="1345" y="77" width="1" height="21" fill="#000"/>
<rect x="1343" y="80" width="5" height="18" fill="#000"/><rect x="1344" y="81" width="3" height="16" fill="#fff"/>
<rect x="1353" y="78" width="1" height="6" fill="#000"/>
<rect x="1351" y="81" width="5" height="1" fill="#000"/>
<rect x="1361" y="75" width="1" height="9" fill="#000"/>
<rect x="1359" y="79" width="5" height="3" fill="#000"/><rect x="1360" y="80" width="3" height="1" fill="#fff"/>
<rect x="1369" y="76" width="1" height="16" fill="#000"/>
<rect x="1367" y="77" width="5" height="1" fill="#000"/>
<rect x="1377" y="68" width="1" height="14" fill="#000"/>
<rect x="1375" y="74" width="5" height="3" fill="#000"/><rect x="1376" y="75" width="3" height="1" fill="#fff"/>
<rect x="1385" y="69" width="1" height="48" fill="#000"/>
<rect x="1383" y="72" width="5" height="34" fill="#000"/>
<rect x="1393" y="74" width="1" height="32" fill="#000"/>
<rect x="1391" y="75" width="5" height="31" fill="#000"/><rect x="1392" y="76" width="3" height="29" fill="#fff"/>
<rect x="1401" y="65" width="1" height="19" fill="#000"/>
<rect x="1399" y="70" width="5" height="14" fill="#000"/><rect x="1400" y="71" width="3" height="12" fill="#fff"/>
<rect x="1407" y="71" width="5" height="1" fill="#000"/>
</g>
<path d="M1412,28 L1423,28 L1417.5,34 Z" fill="#c0c0c0" shape-rendering="auto"/>
</g>
<g id="price-tags">
<rect x="434.5" y="561.5" width="61" height="18" fill="#fff" stroke="#ff0000" stroke-width="1" shape-rendering="crispEdges"/><rect x="495" y="570" width="10" height="1" fill="#ff0000" shape-rendering="crispEdges"/><text x="465.0" y="576" font-size="17.3" fill="#ff0000" text-anchor="middle" textLength="57" lengthAdjust="spacingAndGlyphs" >33619.2</text>
<rect x="690.5" y="158.5" width="62" height="18" fill="#fff" stroke="#ff0000" stroke-width="1" shape-rendering="crispEdges"/><rect x="752" y="167" width="9" height="1" fill="#ff0000" shape-rendering="crispEdges"/><text x="721.5" y="173" font-size="17.3" fill="#ff0000" text-anchor="middle" textLength="57" lengthAdjust="spacingAndGlyphs" >35066.2</text>
<rect x="666.5" y="274.5" width="61" height="18" fill="#fff" stroke="#ff0000" stroke-width="1" shape-rendering="crispEdges"/><rect x="727" y="283" width="10" height="1" fill="#ff0000" shape-rendering="crispEdges"/><text x="697.0" y="289" font-size="17.3" fill="#ff0000" text-anchor="middle" textLength="57" lengthAdjust="spacingAndGlyphs" >34649.6</text>
<rect x="970.5" y="289.5" width="61" height="18" fill="#fff" stroke="#ff0000" stroke-width="1" shape-rendering="crispEdges"/><rect x="1031" y="298" width="10" height="1" fill="#ff0000" shape-rendering="crispEdges"/><text x="1001.0" y="304" font-size="17.3" fill="#ff0000" text-anchor="middle" textLength="57" lengthAdjust="spacingAndGlyphs" >34596.9</text>
<rect x="1114.5" y="139.5" width="61" height="18" fill="#fff" stroke="#ff0000" stroke-width="1" shape-rendering="crispEdges"/><rect x="1175" y="148" width="10" height="1" fill="#ff0000" shape-rendering="crispEdges"/><text x="1145.0" y="154" font-size="17.3" fill="#ff0000" text-anchor="middle" textLength="57" lengthAdjust="spacingAndGlyphs" >35135.2</text>
<rect x="1236.5" y="70.5" width="73" height="24" fill="#fff" stroke="#ff0000" shape-rendering="crispEdges"/>
<rect x="1226" y="82" width="7" height="1" fill="#ff0000" shape-rendering="crispEdges"/>
<rect x="1233.5" y="80.5" width="3" height="3" fill="#fff" stroke="#ff0000" shape-rendering="crispEdges"/>
<text x="1272.8" y="91" font-size="22.2" fill="#ff0000" text-anchor="middle" textLength="70" lengthAdjust="spacingAndGlyphs" >35374.3</text>
</g>
<g id="turn-label">
<rect x="1498.5" y="62.5" width="110" height="24" fill="none" stroke="#404040" shape-rendering="crispEdges"/>
<text x="1500.5" y="81" font-size="20" fill="#00ff00" font-weight="300" font-family="Liberation Sans, Noto Serif CJK SC, serif" textLength="105" lengthAdjust="spacingAndGlyphs" >多空转折点</text>
<rect x="1551.5" y="59.5" width="3" height="3" fill="#fff" stroke="#32cd32" shape-rendering="crispEdges"/>
</g>
<g id="macd" shape-rendering="crispEdges">
<rect x="1" y="603" width="1" height="52" fill="#c0c0c0"/>
<rect x="9" y="605" width="1" height="50" fill="#c0c0c0"/>
<rect x="17" y="607" width="1" height="48" fill="#c0c0c0"/>
<rect x="25" y="609" width="1" height="46" fill="#c0c0c0"/>
<rect x="33" y="612" width="1" height="43" fill="#c0c0c0"/>
<rect x="41" y="615" width="1" height="40" fill="#c0c0c0"/>
<rect x="49" y="629" width="1" height="26" fill="#c0c0c0"/>
<rect x="57" y="636" width="1" height="19" fill="#c0c0c0"/>
<rect x="65" y="644" width="1" height="11" fill="#c0c0c0"/>
<rect x="73" y="648" width="1" height="7" fill="#c0c0c0"/>
<rect x="81" y="651" width="1" height="4" fill="#c0c0c0"/>
<rect x="89" y="652" width="1" height="3" fill="#c0c0c0"/>
<rect x="97" y="653" width="1" height="2" fill="#c0c0c0"/>
<rect x="105" y="651" width="1" height="4" fill="#c0c0c0"/>
<rect x="113" y="649" width="1" height="6" fill="#c0c0c0"/>
<rect x="121" y="652" width="1" height="3" fill="#c0c0c0"/>
<rect x="129" y="654" width="1" height="7" fill="#c0c0c0"/>
<rect x="137" y="654" width="1" height="21" fill="#c0c0c0"/>
<rect x="145" y="654" width="1" height="23" fill="#c0c0c0"/>
<rect x="153" y="654" width="1" height="24" fill="#c0c0c0"/>
<rect x="161" y="654" width="1" height="26" fill="#c0c0c0"/>
<rect x="169" y="654" width="1" height="29" fill="#c0c0c0"/>
<rect x="177" y="654" width="1" height="26" fill="#c0c0c0"/>
<rect x="185" y="654" width="1" height="18" fill="#c0c0c0"/>
<rect x="193" y="654" width="1" height="5" fill="#c0c0c0"/>
<rect x="201" y="649" width="1" height="6" fill="#c0c0c0"/>
<rect x="209" y="640" width="1" height="15" fill="#c0c0c0"/>
<rect x="217" y="632" width="1" height="23" fill="#c0c0c0"/>
<rect x="225" y="630" width="1" height="25" fill="#c0c0c0"/>
<rect x="233" y="631" width="1" height="24" fill="#c0c0c0"/>
<rect x="241" y="632" width="1" height="23" fill="#c0c0c0"/>
<rect x="249" y="626" width="1" height="29" fill="#c0c0c0"/>
<rect x="257" y="620" width="1" height="35" fill="#c0c0c0"/>
<rect x="265" y="615" width="1" height="40" fill="#c0c0c0"/>
<rect x="273" y="612" width="1" height="43" fill="#c0c0c0"/>
<rect x="281" y="611" width="1" height="44" fill="#c0c0c0"/>
<rect x="289" y="611" width="1" height="44" fill="#c0c0c0"/>
<rect x="297" y="611" width="1" height="44" fill="#c0c0c0"/>
<rect x="305" y="614" width="1" height="41" fill="#c0c0c0"/>
<rect x="313" y="618" width="1" height="37" fill="#c0c0c0"/>
<rect x="321" y="622" width="1" height="33" fill="#c0c0c0"/>
<rect x="329" y="625" width="1" height="30" fill="#c0c0c0"/>
<rect x="337" y="627" width="1" height="28" fill="#c0c0c0"/>
<rect x="345" y="630" width="1" height="25" fill="#c0c0c0"/>
<rect x="353" y="630" width="1" height="25" fill="#c0c0c0"/>
<rect x="361" y="631" width="1" height="24" fill="#c0c0c0"/>
<rect x="369" y="633" width="1" height="22" fill="#c0c0c0"/>
<rect x="377" y="637" width="1" height="18" fill="#c0c0c0"/>
<rect x="385" y="642" width="1" height="13" fill="#c0c0c0"/>
<rect x="393" y="641" width="1" height="14" fill="#c0c0c0"/>
<rect x="401" y="639" width="1" height="16" fill="#c0c0c0"/>
<rect x="409" y="639" width="1" height="16" fill="#c0c0c0"/>
<rect x="417" y="637" width="1" height="18" fill="#c0c0c0"/>
<rect x="425" y="635" width="1" height="20" fill="#c0c0c0"/>
<rect x="433" y="634" width="1" height="21" fill="#c0c0c0"/>
<rect x="441" y="636" width="1" height="19" fill="#c0c0c0"/>
<rect x="449" y="646" width="1" height="9" fill="#c0c0c0"/>
<rect x="457" y="654" width="1" height="1" fill="#c0c0c0"/>
<rect x="465" y="654" width="1" height="10" fill="#c0c0c0"/>
<rect x="473" y="654" width="1" height="19" fill="#c0c0c0"/>
<rect x="481" y="654" width="1" height="29" fill="#c0c0c0"/>
<rect x="489" y="654" width="1" height="42" fill="#c0c0c0"/>
<rect x="497" y="654" width="1" height="62" fill="#c0c0c0"/>
<rect x="505" y="654" width="1" height="76" fill="#c0c0c0"/>
<rect x="513" y="654" width="1" height="84" fill="#c0c0c0"/>
<rect x="521" y="654" width="1" height="89" fill="#c0c0c0"/>
<rect x="529" y="654" width="1" height="89" fill="#c0c0c0"/>
<rect x="537" y="654" width="1" height="87" fill="#c0c0c0"/>
<rect x="545" y="654" width="1" height="69" fill="#c0c0c0"/>
<rect x="553" y="654" width="1" height="59" fill="#c0c0c0"/>
<rect x="561" y="654" width="1" height="47" fill="#c0c0c0"/>
<rect x="569" y="654" width="1" height="40" fill="#c0c0c0"/>
<rect x="577" y="654" width="1" height="27" fill="#c0c0c0"/>
<rect x="585" y="654" width="1" height="20" fill="#c0c0c0"/>
<rect x="593" y="654" width="1" height="9" fill="#c0c0c0"/>
<rect x="601" y="654" width="1" height="1" fill="#c0c0c0"/>
<rect x="609" y="645" width="1" height="10" fill="#c0c0c0"/>
<rect x="617" y="638" width="1" height="17" fill="#c0c0c0"/>
<rect x="625" y="633" width="1" height="22" fill="#c0c0c0"/>
<rect x="633" y="628" width="1" height="27" fill="#c0c0c0"/>
<rect x="641" y="629" width="1" height="26" fill="#c0c0c0"/>
<rect x="649" y="627" width="1" height="28" fill="#c0c0c0"/>
<rect x="657" y="624" width="1" height="31" fill="#c0c0c0"/>
<rect x="665" y="622" width="1" height="33" fill="#c0c0c0"/>
<rect x="673" y="619" width="1" height="36" fill="#c0c0c0"/>
<rect x="681" y="615" width="1" height="40" fill="#c0c0c0"/>
<rect x="689" y="612" width="1" height="43" fill="#c0c0c0"/>
<rect x="697" y="609" width="1" height="46" fill="#c0c0c0"/>
<rect x="705" y="606" width="1" height="49" fill="#c0c0c0"/>
<rect x="713" y="606" width="1" height="49" fill="#c0c0c0"/>
<rect x="721" y="610" width="1" height="45" fill="#c0c0c0"/>
<rect x="729" y="616" width="1" height="39" fill="#c0c0c0"/>
<rect x="737" y="617" width="1" height="38" fill="#c0c0c0"/>
<rect x="745" y="614" width="1" height="41" fill="#c0c0c0"/>
<rect x="753" y="611" width="1" height="44" fill="#c0c0c0"/>
<rect x="761" y="609" width="1" height="46" fill="#c0c0c0"/>
<rect x="769" y="610" width="1" height="45" fill="#c0c0c0"/>
<rect x="777" y="614" width="1" height="41" fill="#c0c0c0"/>
<rect x="785" y="615" width="1" height="40" fill="#c0c0c0"/>
<rect x="793" y="619" width="1" height="36" fill="#c0c0c0"/>
<rect x="801" y="620" width="1" height="35" fill="#c0c0c0"/>
<rect x="809" y="622" width="1" height="33" fill="#c0c0c0"/>
<rect x="817" y="625" width="1" height="30" fill="#c0c0c0"/>
<rect x="825" y="627" width="1" height="28" fill="#c0c0c0"/>
<rect x="833" y="628" width="1" height="27" fill="#c0c0c0"/>
<rect x="841" y="630" width="1" height="25" fill="#c0c0c0"/>
<rect x="849" y="635" width="1" height="20" fill="#c0c0c0"/>
<rect x="857" y="637" width="1" height="18" fill="#c0c0c0"/>
<rect x="865" y="641" width="1" height="14" fill="#c0c0c0"/>
<rect x="873" y="641" width="1" height="14" fill="#c0c0c0"/>
<rect x="881" y="640" width="1" height="15" fill="#c0c0c0"/>
<rect x="889" y="637" width="1" height="18" fill="#c0c0c0"/>
<rect x="897" y="636" width="1" height="19" fill="#c0c0c0"/>
<rect x="905" y="639" width="1" height="16" fill="#c0c0c0"/>
<rect x="913" y="642" width="1" height="13" fill="#c0c0c0"/>
<rect x="921" y="645" width="1" height="10" fill="#c0c0c0"/>
<rect x="929" y="648" width="1" height="7" fill="#c0c0c0"/>
<rect x="937" y="649" width="1" height="6" fill="#c0c0c0"/>
<rect x="945" y="652" width="1" height="3" fill="#c0c0c0"/>
<rect x="953" y="653" width="1" height="2" fill="#c0c0c0"/>
<rect x="961" y="649" width="1" height="6" fill="#c0c0c0"/>
<rect x="969" y="647" width="1" height="8" fill="#c0c0c0"/>
<rect x="977" y="645" width="1" height="10" fill="#c0c0c0"/>
<rect x="985" y="645" width="1" height="10" fill="#c0c0c0"/>
<rect x="993" y="649" width="1" height="6" fill="#c0c0c0"/>
<rect x="1001" y="654" width="1" height="1" fill="#c0c0c0"/>
<rect x="1009" y="654" width="1" height="3" fill="#c0c0c0"/>
<rect x="1017" y="654" width="1" height="5" fill="#c0c0c0"/>
<rect x="1025" y="654" width="1" height="5" fill="#c0c0c0"/>
<rect x="1033" y="654" width="1" height="3" fill="#c0c0c0"/>
<rect x="1041" y="654" width="1" height="1" fill="#c0c0c0"/>
<rect x="1049" y="652" width="1" height="3" fill="#c0c0c0"/>
<rect x="1057" y="651" width="1" height="4" fill="#c0c0c0"/>
<rect x="1065" y="649" width="1" height="6" fill="#c0c0c0"/>
<rect x="1073" y="649" width="1" height="6" fill="#c0c0c0"/>
<rect x="1081" y="649" width="1" height="6" fill="#c0c0c0"/>
<rect x="1089" y="654" width="1" height="1" fill="#c0c0c0"/>
<rect x="1097" y="654" width="1" height="7" fill="#c0c0c0"/>
<rect x="1105" y="654" width="1" height="11" fill="#c0c0c0"/>
<rect x="1113" y="654" width="1" height="13" fill="#c0c0c0"/>
<rect x="1121" y="654" width="1" height="15" fill="#c0c0c0"/>
<rect x="1129" y="654" width="1" height="16" fill="#c0c0c0"/>
<rect x="1137" y="654" width="1" height="12" fill="#c0c0c0"/>
<rect x="1145" y="654" width="1" height="7" fill="#c0c0c0"/>
<rect x="1153" y="654" width="1" height="4" fill="#c0c0c0"/>
<rect x="1161" y="654" width="1" height="1" fill="#c0c0c0"/>
<rect x="1169" y="654" width="1" height="1" fill="#c0c0c0"/>
<rect x="1177" y="651" width="1" height="4" fill="#c0c0c0"/>
<rect x="1185" y="644" width="1" height="11" fill="#c0c0c0"/>
<rect x="1193" y="639" width="1" height="16" fill="#c0c0c0"/>
<rect x="1201" y="635" width="1" height="20" fill="#c0c0c0"/>
<rect x="1209" y="635" width="1" height="20" fill="#c0c0c0"/>
<rect x="1217" y="634" width="1" height="21" fill="#c0c0c0"/>
<rect x="1225" y="634" width="1" height="21" fill="#c0c0c0"/>
<rect x="1233" y="635" width="1" height="20" fill="#c0c0c0"/>
<rect x="1241" y="635" width="1" height="20" fill="#c0c0c0"/>
<rect x="1249" y="637" width="1" height="18" fill="#c0c0c0"/>
<rect x="1257" y="639" width="1" height="16" fill="#c0c0c0"/>
<rect x="1265" y="642" width="1" height="13" fill="#c0c0c0"/>
<rect x="1273" y="643" width="1" height="12" fill="#c0c0c0"/>
<rect x="1281" y="644" width="1" height="11" fill="#c0c0c0"/>
<rect x="1289" y="637" width="1" height="18" fill="#c0c0c0"/>
<rect x="1297" y="635" width="1" height="20" fill="#c0c0c0"/>
<rect x="1305" y="633" width="1" height="22" fill="#c0c0c0"/>
<rect x="1313" y="632" width="1" height="23" fill="#c0c0c0"/>
<rect x="1321" y="632" width="1" height="23" fill="#c0c0c0"/>
<rect x="1329" y="630" width="1" height="25" fill="#c0c0c0"/>
<rect x="1337" y="624" width="1" height="31" fill="#c0c0c0"/>
<rect x="1345" y="620" width="1" height="35" fill="#c0c0c0"/>
<rect x="1353" y="615" width="1" height="40" fill="#c0c0c0"/>
<rect x="1361" y="610" width="1" height="45" fill="#c0c0c0"/>
<rect x="1369" y="608" width="1" height="47" fill="#c0c0c0"/>
<rect x="1377" y="606" width="1" height="49" fill="#c0c0c0"/>
<rect x="1385" y="608" width="1" height="47" fill="#c0c0c0"/>
<rect x="1393" y="608" width="1" height="47" fill="#c0c0c0"/>
<rect x="1401" y="608" width="1" height="47" fill="#c0c0c0"/>
<rect x="1409" y="608" width="1" height="47" fill="#c0c0c0"/>
<path d="M0 603.5h3M6 603.5h3M13 604.5h2M18 604.5h3M24 604.5h2M30 605.5h2M36 606.5h2M42 608.5h2M47 610.5h2M751 611.5h3M757 611.5h3M763 611.5h3M769 611.5h3M1404 611.5h2M733 612.5h3M739 612.5h3M745 612.5h3M775 612.5h3M781 612.5h2M53 613.5h2M722 613.5h2M727 613.5h3M787 613.5h3M1397 613.5h3M793 614.5h3M799 614.5h3M58 615.5h2M312 615.5h3M318 615.5h3M324 615.5h3M716 615.5h2M806 615.5h2M811 615.5h3M1391 615.5h3M307 616.5h2M331 616.5h2M710 616.5h3M817 616.5h3M337 617.5h2M1385 617.5h3M65 618.5h2M300 618.5h2M342 618.5h3M704 618.5h3M824 618.5h2M294 619.5h3M829 619.5h3M1380 619.5h2M349 620.5h2M698 620.5h3M69 621.5h2M288 621.5h3M354 621.5h2M836 621.5h2M1374 621.5h2M692 622.5h2M841 622.5h3M282 623.5h2M360 623.5h3M1369 623.5h2M75 624.5h2M686 624.5h2M847 624.5h3M276 625.5h2M366 625.5h3M1364 625.5h2M681 626.5h2M853 626.5h2M271 627.5h2M373 627.5h2M858 627.5h2M1358 627.5h2M81 628.5h2M676 628.5h2M379 629.5h2M864 629.5h3M1353 629.5h2M265 630.5h3M85 631.5h2M385 631.5h2M669 631.5h2M870 631.5h3M1348 631.5h2M390 632.5h2M876 632.5h2M396 633.5h2M665 633.5h2M1342 633.5h2M91 634.5h2M259 634.5h2M401 634.5h2M881 634.5h3M407 635.5h2M887 635.5h3M1336 635.5h2M413 636.5h3M660 636.5h2M894 636.5h2M899 636.5h3M1254 636.5h3M1260 636.5h3M1266 636.5h3M1331 636.5h3M254 637.5h2M419 637.5h3M425 637.5h3M431 637.5h3M437 637.5h2M904 637.5h3M1248 637.5h2M1272 637.5h3M1325 637.5h3M97 638.5h2M443 638.5h3M910 638.5h3M1242 638.5h3M1277 638.5h3M1283 638.5h3M1289 638.5h3M1295 638.5h3M1301 638.5h3M1307 638.5h3M1313 638.5h3M1319 638.5h2M449 639.5h3M916 639.5h3M1237 639.5h2M455 640.5h3M653 640.5h2M922 640.5h3M102 641.5h2M928 641.5h3M1230 641.5h3M462 642.5h2M935 642.5h2M940 642.5h3M1226 642.5h2M649 643.5h2M946 643.5h3M468 644.5h2M952 644.5h3M1220 644.5h2M958 645.5h2M114 646.5h2M242 646.5h2M472 646.5h2M964 646.5h2M1213 646.5h3M970 647.5h3M120 648.5h2M643 648.5h2M976 648.5h3M982 648.5h3M988 648.5h3M1208 648.5h3M994 649.5h3M1000 649.5h3M478 650.5h2M1006 650.5h3M1012 650.5h2M127 651.5h2M1017 651.5h3M1202 651.5h2M1024 652.5h2M1029 652.5h3M133 653.5h2M1035 653.5h3M1041 653.5h3M1078 653.5h2M1083 653.5h3M1089 653.5h3M1095 653.5h3M1101 653.5h2M1197 653.5h2M1047 654.5h3M1053 654.5h3M1071 654.5h3M1107 654.5h3M138 655.5h2M1059 655.5h3M1065 655.5h3M1113 655.5h3M1191 656.5h2M1119 657.5h3M145 658.5h2M225 658.5h2M1125 658.5h2M1186 658.5h2M150 660.5h3M1131 660.5h3M1180 660.5h2M1137 661.5h3M156 662.5h2M219 662.5h2M1143 662.5h3M1173 662.5h3M1149 663.5h3M1155 663.5h3M1161 663.5h3M1167 663.5h3M163 665.5h2M214 665.5h2M168 667.5h2M173 669.5h2M207 669.5h2M179 671.5h3M203 671.5h2M184 673.5h3M196 673.5h3M191 674.5h2M576 720.5h2M542 722.5h2M572 723.5h2M548 725.5h2M565 726.5h3M553 727.5h3M559 727.5h3M12.5 603v1M26.5 605v1M32.5 606v1M37.5 607v1M41.5 607v1M49.5 611v1M53.5 612v1M60.5 616v1M64.5 617v1M71.5 622v1M77.5 625v1M80.5 627v1M87.5 632v1M93.5 635v1M96.5 637v1M104.5 642v1M108.5 643v1M109.5 644v1M110.5 645v1M116.5 647v1M122.5 649v1M126.5 650v1M132.5 652v1M140.5 656v1M144.5 657v1M158.5 663v1M162.5 664v1M167.5 666v1M175.5 670v1M190.5 673v1M202.5 672v1M209.5 668v1M213.5 666v1M221.5 661v1M227.5 657v1M230.5 655v1M231.5 654v1M232.5 653v1M236.5 651v1M237.5 650v1M238.5 649v1M244.5 645v1M248.5 642v1M249.5 641v1M250.5 640v1M253.5 638v1M261.5 633v1M270.5 628v1M278.5 624v1M284.5 622v1M302.5 617v1M306.5 617v1M330.5 615v1M336.5 616v1M348.5 619v1M356.5 622v1M372.5 626v1M378.5 628v1M384.5 630v1M392.5 633v1M397.5 634v1M403.5 635v1M409.5 636v1M439.5 638v1M461.5 641v1M467.5 643v1M474.5 647v1M480.5 651v1M484.5 653v1M485.5 654v2M489.5 658v1M490.5 659v1M491.5 660v1M494.5 664v1M495.5 665v1M496.5 666v1M499.5 670v1M500.5 671v1M501.5 672v1M504.5 676v2M505.5 678v1M508.5 682v1M509.5 683v1M510.5 684v1M512.5 688v1M513.5 689v1M514.5 690v1M517.5 694v2M518.5 696v1M521.5 700v1M522.5 701v1M523.5 702v1M526.5 706v1M527.5 707v2M531.5 711v1M532.5 712v1M533.5 713v1M536.5 717v1M537.5 718v1M538.5 719v1M541.5 721v1M547.5 724v1M571.5 724v1M578.5 719v1M582.5 715v1M583.5 714v1M584.5 713v1M588.5 709v1M589.5 707v2M593.5 704v1M594.5 703v1M595.5 702v1M598.5 698v1M599.5 696v2M602.5 692v1M603.5 691v1M604.5 690v1M607.5 686v1M608.5 684v2M611.5 680v1M612.5 679v1M613.5 678v1M616.5 675v1M617.5 674v1M618.5 673v1M621.5 669v1M622.5 668v1M623.5 667v1M627.5 663v1M628.5 662v1M629.5 661v1M632.5 658v1M633.5 657v1M634.5 656v1M637.5 653v1M638.5 652v1M639.5 651v1M645.5 647v1M648.5 644v1M655.5 639v1M659.5 637v1M664.5 634v1M671.5 630v1M675.5 629v1M683.5 625v1M688.5 623v1M694.5 621v1M717.5 614v1M721.5 614v1M783.5 613v1M805.5 614v1M823.5 617v1M835.5 620v1M853.5 625v1M860.5 628v1M877.5 633v1M893.5 635v1M934.5 641v1M960.5 646v1M966.5 647v1M1013.5 651v1M1023.5 651v1M1077.5 654v1M1103.5 654v1M1127.5 659v1M1179.5 661v1M1185.5 659v1M1193.5 655v1M1197.5 654v1M1204.5 650v1M1219.5 645v1M1225.5 643v1M1236.5 640v1M1250.5 636v1M1321.5 637v1M1338.5 634v1M1344.5 632v1M1349.5 630v1M1355.5 628v1M1360.5 626v1M1365.5 624v1M1371.5 622v1M1376.5 620v1M1381.5 618v1M1403.5 612v1M1409.5 610v1" fill="none" stroke="#ff0000" stroke-width="1"/>
</g>
<g id="rsi" shape-rendering="crispEdges">
<path d="M0,790.5 H1651" stroke="#c0c0c0" stroke-width="1" stroke-dasharray="3,3" fill="none"/>
<path d="M0,841.5 H1651" stroke="#c0c0c0" stroke-width="1" stroke-dasharray="3,3" fill="none"/>
<path d="M0,902.5 H1651" stroke="#c0c0c0" stroke-width="1" stroke-dasharray="3,3" fill="none"/>
<path d="M1373 797.5h5M1357 798.5h16M1349 799.5h9M1343 800.5h6M1341 801.5h2M1338 802.5h3M2 806.5h2M16 809.5h10M1333 809.5h2M14 810.5h2M1397 810.5h13M1393 811.5h4M11 812.5h2M9 813.5h2M696 813.5h13M694 814.5h2M709 814.5h5M692 815.5h2M1197 815.5h5M690 816.5h2M751 816.5h4M1185 816.5h12M680 817.5h10M749 817.5h2M755 817.5h3M1293 817.5h11M259 818.5h11M678 818.5h2M747 818.5h3M757 818.5h2M1289 818.5h5M1304 818.5h4M1327 818.5h2M213 819.5h5M253 819.5h6M269 819.5h4M676 819.5h2M745 819.5h2M759 819.5h2M1308 819.5h3M33 820.5h2M205 820.5h8M249 820.5h5M273 820.5h4M674 820.5h2M761 820.5h4M1311 820.5h3M35 821.5h2M197 821.5h8M277 821.5h3M285 821.5h8M672 821.5h2M765 821.5h3M1314 821.5h4M1323 821.5h2M1385 821.5h2M193 822.5h4M280 822.5h5M293 822.5h5M669 822.5h3M768 822.5h2M1317 822.5h6M37 823.5h2M668 823.5h2M627 824.5h8M666 824.5h2M740 824.5h2M40 825.5h2M430 825.5h4M606 825.5h21M657 825.5h9M975 825.5h3M427 826.5h3M603 826.5h3M654 826.5h3M973 826.5h2M978 826.5h2M1216 826.5h3M399 827.5h4M423 827.5h4M593 827.5h10M887 827.5h2M890 827.5h2M971 827.5h3M1214 827.5h2M1219 827.5h2M225 828.5h2M397 828.5h2M418 828.5h5M650 828.5h3M885 828.5h2M892 828.5h2M968 828.5h3M1051 828.5h2M1212 828.5h2M353 829.5h3M396 829.5h2M416 829.5h2M648 829.5h2M783 829.5h2M801 829.5h4M884 829.5h2M893 829.5h2M965 829.5h3M1175 829.5h2M1210 829.5h2M1239 829.5h2M305 830.5h2M356 830.5h4M393 830.5h3M414 830.5h2M646 830.5h2M787 830.5h2M799 830.5h2M805 830.5h4M882 830.5h2M895 830.5h2M963 830.5h3M1146 830.5h2M1173 830.5h2M1223 830.5h2M1237 830.5h2M1243 830.5h2M307 831.5h2M334 831.5h2M360 831.5h3M405 831.5h2M644 831.5h2M809 831.5h2M830 831.5h6M880 831.5h2M961 831.5h2M1172 831.5h2M1225 831.5h4M1236 831.5h2M363 832.5h2M579 832.5h2M642 832.5h2M721 832.5h2M779 832.5h2M826 832.5h4M836 832.5h3M877 832.5h3M898 832.5h2M1062 832.5h5M1170 832.5h2M1229 832.5h2M309 833.5h2M349 833.5h2M410 833.5h2M790 833.5h2M812 833.5h2M823 833.5h3M839 833.5h3M874 833.5h3M1058 833.5h4M1067 833.5h3M1149 833.5h2M1164 833.5h6M1231 833.5h4M1246 833.5h2M104 834.5h6M311 834.5h2M331 834.5h2M365 834.5h2M794 834.5h2M821 834.5h2M1069 834.5h2M1158 834.5h6M109 835.5h5M237 835.5h5M313 835.5h13M367 835.5h2M814 835.5h2M820 835.5h2M1071 835.5h3M1154 835.5h4M1249 835.5h4M101 836.5h2M182 836.5h2M233 836.5h4M326 836.5h4M369 836.5h2M561 836.5h2M725 836.5h2M818 836.5h2M902 836.5h2M1074 836.5h2M1253 836.5h4M559 837.5h2M563 837.5h2M584 837.5h2M1039 837.5h3M1076 837.5h2M1257 837.5h2M99 838.5h2M545 838.5h2M557 838.5h2M905 838.5h2M1037 838.5h2M1078 838.5h3M1273 838.5h9M547 839.5h3M556 839.5h2M566 839.5h2M855 839.5h2M858 839.5h2M1034 839.5h3M1260 839.5h2M1271 839.5h2M95 840.5h3M373 840.5h2M549 840.5h4M554 840.5h2M853 840.5h2M860 840.5h2M908 840.5h2M1030 840.5h4M1269 840.5h2M93 841.5h2M909 841.5h2M989 841.5h2M1026 841.5h4M1268 841.5h2M90 842.5h3M851 842.5h2M862 842.5h2M911 842.5h2M1263 842.5h2M87 843.5h3M377 843.5h2M913 843.5h3M1265 843.5h2M85 844.5h2M379 844.5h2M916 844.5h2M927 844.5h12M951 844.5h3M82 845.5h3M918 845.5h2M923 845.5h4M939 845.5h3M949 845.5h2M79 846.5h3M920 846.5h3M941 846.5h3M947 846.5h2M77 847.5h2M383 847.5h3M944 847.5h3M75 848.5h3M57 849.5h2M73 849.5h2M70 851.5h2M1009 851.5h9M145 852.5h10M61 853.5h2M155 853.5h3M1126 853.5h4M67 854.5h2M158 854.5h4M1122 854.5h4M162 855.5h2M1005 855.5h2M1112 855.5h10M164 856.5h2M1110 856.5h2M165 857.5h2M167 858.5h2M1106 858.5h3M449 859.5h3M1104 859.5h2M452 860.5h2M1102 860.5h2M453 861.5h2M1089 861.5h4M49 862.5h2M455 862.5h2M1093 862.5h3M1098 862.5h3M49 863.5h2M457 863.5h2M1096 863.5h2M459 864.5h2M462 866.5h2M464 867.5h3M533 867.5h5M467 868.5h4M529 868.5h5M471 869.5h3M474 870.5h2M477 873.5h2M480 875.5h2M136 876.5h2M513 883.5h3M516 884.5h4M520 885.5h2M501 893.5h5M497 894.5h4M0.5 804v1M1.5 805v1M4.5 807v1M5.5 808v2M6.5 810v1M7.5 811v1M8.5 812v1M13.5 811v1M26.5 810v2M27.5 812v1M28.5 813v1M29.5 814v2M30.5 816v1M31.5 817v1M32.5 818v2M37.5 822v1M39.5 824v1M41.5 826v2M42.5 828v5M43.5 833v5M44.5 838v5M45.5 843v4M46.5 847v5M47.5 852v5M48.5 857v5M49.5 864v1M51.5 860v2M52.5 858v2M53.5 856v2M54.5 854v2M55.5 853v1M56.5 851v2M57.5 850v1M59.5 850v1M60.5 851v1M61.5 852v1M63.5 854v1M64.5 855v1M65.5 856v1M66.5 855v1M69.5 852v2M72.5 850v1M98.5 839v1M101.5 837v1M103.5 835v1M114.5 836v1M115.5 837v2M116.5 839v1M117.5 840v1M118.5 841v1M119.5 842v2M120.5 844v1M121.5 845v2M122.5 847v3M123.5 850v3M124.5 853v3M125.5 856v2M126.5 858v3M127.5 861v3M128.5 864v3M129.5 867v2M130.5 869v1M131.5 870v1M132.5 871v1M133.5 872v1M134.5 873v1M135.5 874v2M137.5 877v1M138.5 873v3M139.5 870v3M140.5 867v3M141.5 863v4M142.5 860v3M143.5 857v3M144.5 854v3M145.5 853v1M169.5 859v1M170.5 857v2M171.5 855v2M172.5 853v2M173.5 852v1M174.5 850v2M175.5 848v2M176.5 846v2M177.5 845v1M178.5 843v2M179.5 841v2M180.5 839v2M181.5 838v1M182.5 837v1M183.5 835v1M184.5 833v2M185.5 832v1M186.5 831v1M187.5 829v2M188.5 828v1M189.5 827v1M190.5 826v1M191.5 824v2M192.5 823v1M218.5 820v1M219.5 821v1M220.5 822v1M221.5 823v2M222.5 825v1M223.5 826v1M224.5 827v1M227.5 829v1M228.5 830v1M229.5 831v2M230.5 833v1M231.5 834v1M232.5 835v1M242.5 833v2M243.5 831v2M244.5 829v2M245.5 827v2M246.5 825v2M247.5 823v2M248.5 821v2M298.5 823v1M299.5 824v1M300.5 825v1M301.5 826v1M302.5 827v1M303.5 828v1M304.5 829v1M309.5 832v1M330.5 835v1M333.5 832v2M336.5 830v1M337.5 829v1M338.5 830v1M339.5 831v1M340.5 832v1M341.5 833v2M342.5 835v1M343.5 836v1M344.5 837v1M345.5 838v1M346.5 837v1M347.5 835v2M348.5 834v1M351.5 831v2M352.5 830v1M365.5 833v1M371.5 837v1M372.5 838v1M373.5 839v1M375.5 841v1M376.5 842v1M381.5 845v1M382.5 846v1M385.5 848v1M386.5 845v2M387.5 843v2M388.5 841v2M389.5 838v3M390.5 836v2M391.5 834v2M392.5 832v2M393.5 831v1M403.5 828v1M404.5 829v1M405.5 830v1M407.5 832v1M408.5 833v1M409.5 834v1M412.5 832v1M413.5 831v1M434.5 826v2M435.5 828v1M436.5 829v2M437.5 831v2M438.5 833v2M439.5 835v2M440.5 837v2M441.5 839v2M442.5 841v2M443.5 843v3M444.5 846v2M445.5 848v3M446.5 851v2M447.5 853v3M448.5 856v2M449.5 858v1M461.5 865v1M476.5 871v1M477.5 872v1M479.5 874v1M482.5 876v1M483.5 877v1M484.5 878v1M485.5 879v2M486.5 881v1M487.5 882v1M488.5 883v1M489.5 884v1M490.5 885v1M491.5 886v2M492.5 888v1M493.5 889v1M494.5 890v1M495.5 891v2M496.5 893v1M506.5 892v1M507.5 890v2M508.5 889v1M509.5 888v1M510.5 887v1M511.5 885v2M512.5 884v1M521.5 884v1M522.5 882v2M523.5 880v2M524.5 878v2M525.5 876v2M526.5 874v2M527.5 872v2M528.5 870v2M529.5 869v1M537.5 866v1M538.5 862v4M539.5 858v4M540.5 855v3M541.5 851v4M542.5 848v3M543.5 844v4M544.5 840v4M545.5 839v1M553.5 841v1M565.5 838v1M568.5 840v1M569.5 841v1M570.5 839v2M571.5 838v1M572.5 837v1M573.5 835v2M574.5 834v1M575.5 833v1M576.5 831v2M577.5 830v1M578.5 831v1M581.5 833v2M582.5 835v1M583.5 836v1M586.5 836v1M587.5 835v1M588.5 834v1M589.5 832v2M590.5 831v1M591.5 830v1M592.5 828v2M635.5 825v2M636.5 827v1M637.5 828v1M638.5 829v1M639.5 830v2M640.5 832v1M641.5 833v1M653.5 827v1M713.5 815v1M714.5 816v2M715.5 818v2M716.5 820v2M717.5 822v3M718.5 825v2M719.5 827v2M720.5 829v2M721.5 831v1M723.5 833v1M724.5 834v1M725.5 835v1M727.5 837v1M728.5 838v1M729.5 839v1M730.5 837v2M731.5 836v1M732.5 834v2M733.5 833v1M734.5 831v2M735.5 830v1M736.5 828v2M737.5 827v1M738.5 826v1M739.5 825v1M741.5 823v1M742.5 822v1M743.5 821v1M744.5 820v1M770.5 823v2M771.5 825v1M772.5 826v2M773.5 828v1M774.5 829v2M775.5 831v1M776.5 832v2M777.5 834v1M778.5 833v1M781.5 831v1M782.5 830v1M785.5 828v1M786.5 829v1M789.5 831v2M792.5 834v1M793.5 835v1M796.5 833v1M797.5 832v1M798.5 831v1M811.5 832v1M813.5 834v1M816.5 836v1M817.5 837v1M842.5 834v2M843.5 836v1M844.5 837v1M845.5 838v2M846.5 840v1M847.5 841v1M848.5 842v2M849.5 844v1M850.5 843v1M853.5 841v1M857.5 838v1M861.5 841v1M864.5 843v1M865.5 844v1M866.5 843v1M867.5 841v2M868.5 840v1M869.5 839v1M870.5 838v1M871.5 836v2M872.5 835v1M873.5 834v1M889.5 826v1M897.5 831v1M900.5 833v1M901.5 834v2M904.5 837v1M907.5 839v1M954.5 842v2M955.5 840v2M956.5 839v1M957.5 837v2M958.5 836v1M959.5 834v2M960.5 832v2M979.5 827v1M980.5 828v1M981.5 829v1M982.5 830v1M983.5 831v2M984.5 833v1M985.5 834v1M986.5 835v2M987.5 837v2M988.5 839v2M990.5 842v1M991.5 843v2M992.5 845v2M993.5 847v1M994.5 848v2M995.5 850v2M996.5 852v1M997.5 853v2M998.5 855v1M999.5 856v2M1000.5 858v2M1001.5 860v1M1002.5 859v1M1003.5 857v2M1004.5 856v1M1007.5 853v2M1008.5 852v1M1018.5 850v1M1019.5 848v2M1020.5 847v1M1021.5 846v1M1022.5 845v1M1023.5 844v1M1024.5 843v1M1025.5 842v1M1042.5 835v2M1043.5 834v1M1044.5 833v1M1045.5 831v2M1046.5 830v1M1047.5 829v1M1048.5 827v2M1049.5 826v1M1050.5 827v1M1053.5 829v2M1054.5 831v1M1055.5 832v1M1056.5 833v1M1057.5 834v1M1081.5 839v2M1082.5 841v3M1083.5 844v2M1084.5 846v3M1085.5 849v3M1086.5 852v3M1087.5 855v2M1088.5 857v3M1089.5 860v1M1101.5 861v1M1109.5 857v1M1130.5 851v2M1131.5 849v2M1132.5 847v2M1133.5 845v2M1134.5 843v2M1135.5 841v2M1136.5 839v2M1137.5 837v2M1138.5 836v1M1139.5 835v1M1140.5 834v1M1141.5 833v1M1142.5 832v1M1143.5 831v1M1144.5 830v1M1145.5 829v1M1148.5 831v1M1149.5 832v1M1151.5 834v1M1152.5 835v1M1153.5 836v1M1177.5 828v1M1178.5 826v2M1179.5 824v2M1180.5 823v1M1181.5 822v1M1182.5 821v1M1183.5 819v2M1184.5 817v2M1202.5 816v2M1203.5 818v2M1204.5 820v2M1205.5 822v2M1206.5 824v2M1207.5 826v2M1208.5 828v2M1209.5 830v1M1221.5 828v1M1222.5 829v1M1235.5 832v1M1241.5 828v1M1242.5 829v1M1245.5 831v2M1248.5 834v1M1259.5 838v1M1261.5 840v1M1262.5 841v1M1267.5 842v1M1281.5 837v1M1282.5 835v2M1283.5 832v3M1284.5 830v2M1285.5 827v3M1286.5 825v2M1287.5 822v3M1288.5 820v2M1289.5 819v1M1325.5 820v1M1326.5 819v1M1329.5 817v1M1330.5 815v2M1331.5 813v2M1332.5 811v2M1333.5 810v1M1334.5 808v1M1335.5 806v2M1336.5 804v2M1337.5 803v1M1377.5 798v1M1378.5 799v3M1379.5 802v3M1380.5 805v3M1381.5 808v4M1382.5 812v3M1383.5 815v3M1384.5 818v3M1385.5 822v1M1386.5 820v1M1387.5 819v1M1388.5 818v1M1389.5 816v2M1390.5 815v1M1391.5 814v1M1392.5 812v2" fill="none" stroke="#1e90ff" stroke-width="1"/>
</g>
<g id="arrows">
<line x1="1109" y1="266.7" x2="1428.8" y2="60.5" stroke="#ff0000" stroke-width="3.8"/><path d="M1438.0,54.5 L1430.1,66.2 L1428.3,60.7 L1424.1,56.9 Z" fill="#ff0000"/>
<line x1="1196" y1="655" x2="1398.3" y2="608.2" stroke="#ff0000" stroke-width="3.6"/><path d="M1410.0,605.5 L1397.5,613.5 L1397.8,608.3 L1395.2,603.8 Z" fill="#ff0000"/>
<line x1="1241" y1="832" x2="1406.6" y2="811.9" stroke="#ff0000" stroke-width="3.6"/><path d="M1418.5,810.5 L1405.2,817.1 L1406.1,812.0 L1404.0,807.2 Z" fill="#ff0000"/>
</g>
<rect id="zone-bar" x="1333" y="80" width="131" height="8" fill="#00ff00" shape-rendering="crispEdges"/>
<g id="frames" shape-rendering="crispEdges">
<rect x="0" y="27" width="1652" height="1" fill="#000" />
<rect x="0" y="594" width="1652" height="1" fill="#000" />
<rect x="0" y="596" width="1652" height="1" fill="#000" />
<rect x="0" y="752" width="1652" height="1" fill="#000" />
<rect x="0" y="754" width="1652" height="1" fill="#000" />
<rect x="0" y="928" width="1652" height="1" fill="#000" />
<rect x="1651" y="27" width="1" height="902" fill="#000"/>
<rect x="1651" y="595" width="1" height="1" fill="#fff" />
<rect x="1651" y="753" width="1" height="1" fill="#fff" />
<rect x="1652" y="31" width="3" height="1" fill="#000" />
<rect x="1652" y="64" width="3" height="1" fill="#000" />
<rect x="1652" y="97" width="3" height="1" fill="#000" />
<rect x="1652" y="130" width="3" height="1" fill="#000" />
<rect x="1652" y="163" width="3" height="1" fill="#000" />
<rect x="1652" y="196" width="3" height="1" fill="#000" />
<rect x="1652" y="228" width="3" height="1" fill="#000" />
<rect x="1652" y="261" width="3" height="1" fill="#000" />
<rect x="1652" y="294" width="3" height="1" fill="#000" />
<rect x="1652" y="327" width="3" height="1" fill="#000" />
<rect x="1652" y="360" width="3" height="1" fill="#000" />
<rect x="1652" y="393" width="3" height="1" fill="#000" />
<rect x="1652" y="426" width="3" height="1" fill="#000" />
<rect x="1652" y="459" width="3" height="1" fill="#000" />
<rect x="1652" y="492" width="3" height="1" fill="#000" />
<rect x="1652" y="525" width="3" height="1" fill="#000" />
<rect x="1652" y="558" width="3" height="1" fill="#000" />
<rect x="1652" y="591" width="3" height="1" fill="#000" />
<rect x="1652" y="598" width="2" height="1" fill="#000" />
<rect x="1652" y="654" width="2" height="1" fill="#000" />
<rect x="1652" y="751" width="2" height="1" fill="#000" />
<rect x="1652" y="756" width="2" height="1" fill="#000" />
<rect x="57" y="929" width="1" height="3" fill="#000"/>
<rect x="121" y="929" width="1" height="3" fill="#000"/>
<rect x="185" y="929" width="1" height="3" fill="#000"/>
<rect x="249" y="929" width="1" height="3" fill="#000"/>
<rect x="313" y="929" width="1" height="3" fill="#000"/>
<rect x="377" y="929" width="1" height="3" fill="#000"/>
<rect x="441" y="929" width="1" height="3" fill="#000"/>
<rect x="505" y="929" width="1" height="3" fill="#000"/>
<rect x="569" y="929" width="1" height="3" fill="#000"/>
<rect x="633" y="929" width="1" height="3" fill="#000"/>
<rect x="697" y="929" width="1" height="3" fill="#000"/>
<rect x="761" y="929" width="1" height="3" fill="#000"/>
<rect x="825" y="929" width="1" height="3" fill="#000"/>
<rect x="889" y="929" width="1" height="3" fill="#000"/>
<rect x="953" y="929" width="1" height="3" fill="#000"/>
<rect x="1017" y="929" width="1" height="3" fill="#000"/>
<rect x="1081" y="929" width="1" height="3" fill="#000"/>
<rect x="1145" y="929" width="1" height="3" fill="#000"/>
<rect x="1209" y="929" width="1" height="3" fill="#000"/>
<rect x="1273" y="929" width="1" height="3" fill="#000"/>
<rect x="1337" y="929" width="1" height="3" fill="#000"/>
<rect x="1401" y="929" width="1" height="3" fill="#000"/>
</g>
<g id="axis-text">
<text x="1657" y="35" font-size="10.2" fill="#000" textLength="32.5" lengthAdjust="spacingAndGlyphs" >35560.5</text>
<text x="1657" y="68" font-size="10.2" fill="#000" textLength="32.5" lengthAdjust="spacingAndGlyphs" >35441.5</text>
<text x="1657" y="101" font-size="10.2" fill="#000" textLength="32.5" lengthAdjust="spacingAndGlyphs" >35322.5</text>
<text x="1657" y="134" font-size="10.2" fill="#000" textLength="32.5" lengthAdjust="spacingAndGlyphs" >35203.5</text>
<text x="1657" y="167" font-size="10.2" fill="#000" textLength="32.5" lengthAdjust="spacingAndGlyphs" >35084.5</text>
<text x="1657" y="200" font-size="10.2" fill="#000" textLength="32.5" lengthAdjust="spacingAndGlyphs" >34965.5</text>
<text x="1657" y="232" font-size="10.2" fill="#000" textLength="32.5" lengthAdjust="spacingAndGlyphs" >34850.0</text>
<text x="1657" y="265" font-size="10.2" fill="#000" textLength="32.5" lengthAdjust="spacingAndGlyphs" >34731.0</text>
<text x="1657" y="298" font-size="10.2" fill="#000" textLength="32.5" lengthAdjust="spacingAndGlyphs" >34612.0</text>
<text x="1657" y="331" font-size="10.2" fill="#000" textLength="32.5" lengthAdjust="spacingAndGlyphs" >34493.0</text>
<text x="1657" y="364" font-size="10.2" fill="#000" textLength="32.5" lengthAdjust="spacingAndGlyphs" >34374.0</text>
<text x="1657" y="397" font-size="10.2" fill="#000" textLength="32.5" lengthAdjust="spacingAndGlyphs" >34255.0</text>
<text x="1657" y="430" font-size="10.2" fill="#000" textLength="32.5" lengthAdjust="spacingAndGlyphs" >34136.0</text>
<text x="1657" y="463" font-size="10.2" fill="#000" textLength="32.5" lengthAdjust="spacingAndGlyphs" >34017.0</text>
<text x="1657" y="496" font-size="10.2" fill="#000" textLength="32.5" lengthAdjust="spacingAndGlyphs" >33898.0</text>
<text x="1657" y="529" font-size="10.2" fill="#000" textLength="32.5" lengthAdjust="spacingAndGlyphs" >33779.0</text>
<text x="1657" y="562" font-size="10.2" fill="#000" textLength="32.5" lengthAdjust="spacingAndGlyphs" >33660.0</text>
<text x="1657" y="595" font-size="10.2" fill="#000" textLength="32.5" lengthAdjust="spacingAndGlyphs" >33544.5</text>
<text x="1656" y="607" font-size="10.2" fill="#000" textLength="29" lengthAdjust="spacingAndGlyphs" >135.89</text>
<text x="1657" y="658" font-size="10.2" fill="#000" textLength="18" lengthAdjust="spacingAndGlyphs" >0.00</text>
<text x="1655" y="749" font-size="10.2" fill="#000" textLength="32" lengthAdjust="spacingAndGlyphs" >-232.22</text>
<text x="1656" y="765" font-size="10.2" fill="#000" textLength="14.5" lengthAdjust="spacingAndGlyphs" >100</text>
<text x="1656" y="794" font-size="10.2" fill="#000" textLength="9.5" lengthAdjust="spacingAndGlyphs" >80</text>
<text x="1656" y="845" font-size="10.2" fill="#000" textLength="9.5" lengthAdjust="spacingAndGlyphs" >50</text>
<text x="1655" y="906" font-size="10.2" fill="#000" textLength="9.5" lengthAdjust="spacingAndGlyphs" >15</text>
<text x="1655.5" y="925" font-size="10.2" fill="#000" textLength="4.5" lengthAdjust="spacingAndGlyphs" >0</text>
<rect x="1653" y="33" width="41" height="11" fill="#ff0000" shape-rendering="crispEdges"/>
<text x="1657" y="42" font-size="10.2" fill="#fff" textLength="32.5" lengthAdjust="spacingAndGlyphs" >35529.4</text>
<rect x="1653" y="45" width="41" height="11" fill="#ff0000" shape-rendering="crispEdges"/>
<text x="1657" y="54" font-size="10.2" fill="#fff" textLength="32.5" lengthAdjust="spacingAndGlyphs" >35483.4</text>
<rect x="1653" y="65" width="41" height="11" fill="#000000" shape-rendering="crispEdges"/>
<text x="1657" y="74" font-size="10.2" fill="#fff" textLength="32.5" lengthAdjust="spacingAndGlyphs" >35414.0</text>
<rect x="1653" y="76" width="41" height="11" fill="#32cd32" shape-rendering="crispEdges"/>
<text x="1657" y="85" font-size="10.2" fill="#fff" textLength="32.5" lengthAdjust="spacingAndGlyphs" >35374.3</text>
<rect x="1653" y="88" width="41" height="11" fill="#0000ff" shape-rendering="crispEdges"/>
<text x="1657" y="97" font-size="10.2" fill="#fff" textLength="32.5" lengthAdjust="spacingAndGlyphs" >35329.4</text>
<rect x="1653" y="100" width="41" height="11" fill="#0000ff" shape-rendering="crispEdges"/>
<text x="1657" y="109" font-size="10.2" fill="#fff" textLength="32.5" lengthAdjust="spacingAndGlyphs" >35288.2</text>
<rect x="1646.5" y="37.5" width="4" height="4" fill="#fff" stroke="#ff0000" shape-rendering="crispEdges"/>
<rect x="1646.5" y="80.5" width="4" height="4" fill="#fff" stroke="#32cd32" shape-rendering="crispEdges"/>
<rect x="1646.5" y="92.5" width="4" height="4" fill="#fff" stroke="#0000ff" shape-rendering="crispEdges"/>
<text x="-8" y="941" font-size="10.2" fill="#000" textLength="41.8" lengthAdjust="spacingAndGlyphs" >5 Jul 2021</text>
<text x="56" y="941" font-size="10.2" fill="#000" textLength="44.3" lengthAdjust="spacingAndGlyphs" >6 Jul 16:00</text>
<text x="120" y="941" font-size="10.2" fill="#000" textLength="44.3" lengthAdjust="spacingAndGlyphs" >8 Jul 00:00</text>
<text x="184" y="941" font-size="10.2" fill="#000" textLength="44.3" lengthAdjust="spacingAndGlyphs" >9 Jul 08:00</text>
<text x="248" y="941" font-size="10.2" fill="#000" textLength="49.3" lengthAdjust="spacingAndGlyphs" >12 Jul 12:00</text>
<text x="312" y="941" font-size="10.2" fill="#000" textLength="49.3" lengthAdjust="spacingAndGlyphs" >13 Jul 20:00</text>
<text x="376" y="941" font-size="10.2" fill="#000" textLength="49.3" lengthAdjust="spacingAndGlyphs" >15 Jul 04:00</text>
<text x="440" y="941" font-size="10.2" fill="#000" textLength="49.3" lengthAdjust="spacingAndGlyphs" >16 Jul 12:00</text>
<text x="504" y="941" font-size="10.2" fill="#000" textLength="49.3" lengthAdjust="spacingAndGlyphs" >19 Jul 16:00</text>
<text x="568" y="941" font-size="10.2" fill="#000" textLength="49.3" lengthAdjust="spacingAndGlyphs" >21 Jul 00:00</text>
<text x="632" y="941" font-size="10.2" fill="#000" textLength="49.3" lengthAdjust="spacingAndGlyphs" >22 Jul 08:00</text>
<text x="696" y="941" font-size="10.2" fill="#000" textLength="49.3" lengthAdjust="spacingAndGlyphs" >23 Jul 16:00</text>
<text x="760" y="941" font-size="10.2" fill="#000" textLength="49.3" lengthAdjust="spacingAndGlyphs" >26 Jul 20:00</text>
<text x="824" y="941" font-size="10.2" fill="#000" textLength="49.3" lengthAdjust="spacingAndGlyphs" >28 Jul 04:00</text>
<text x="888" y="941" font-size="10.2" fill="#000" textLength="49.3" lengthAdjust="spacingAndGlyphs" >29 Jul 12:00</text>
<text x="952" y="941" font-size="10.2" fill="#000" textLength="49.3" lengthAdjust="spacingAndGlyphs" >30 Jul 20:00</text>
<text x="1016" y="941" font-size="10.2" fill="#000" textLength="49.6" lengthAdjust="spacingAndGlyphs" >3 Aug 00:00</text>
<text x="1080" y="941" font-size="10.2" fill="#000" textLength="49.6" lengthAdjust="spacingAndGlyphs" >4 Aug 08:00</text>
<text x="1144" y="941" font-size="10.2" fill="#000" textLength="49.6" lengthAdjust="spacingAndGlyphs" >5 Aug 16:00</text>
<text x="1208" y="941" font-size="10.2" fill="#000" textLength="49.6" lengthAdjust="spacingAndGlyphs" >8 Aug 23:00</text>
<text x="1272" y="941" font-size="10.2" fill="#000" textLength="54.8" lengthAdjust="spacingAndGlyphs" >10 Aug 04:00</text>
<text x="1336" y="941" font-size="10.2" fill="#000" textLength="54.1" lengthAdjust="spacingAndGlyphs" >11 Aug 12:00</text>
<text x="1400" y="941" font-size="10.2" fill="#000" textLength="54.8" lengthAdjust="spacingAndGlyphs" >12 Aug 20:00</text>
<text x="8" y="39" font-size="10.2" fill="#000" textLength="186" lengthAdjust="spacingAndGlyphs" >DJ30-,H4&#160;&#160;35415.0 35416.0 35413.0 35414.0</text>
<text x="-2" y="608.4" font-size="10.2" fill="#000" textLength="127" lengthAdjust="spacingAndGlyphs" >MACD(12,26,9) 112.57 107.91</text>
<text x="-3" y="766.4" font-size="10.2" fill="#000" textLength="68" lengthAdjust="spacingAndGlyphs" >RSI(14) 68.3206</text>
<path d="M0,38.5 L0,35 L3.5,38.5 Z" fill="#000"/>
</g>
<g id="one-click">
<defs><linearGradient id="gbtn" x1="0" y1="0" x2="0" y2="1"><stop offset="0" stop-color="#5a5aff"/><stop offset="1" stop-color="#3a3ae0"/></linearGradient><linearGradient id="gpan" x1="0" y1="0" x2="0" y2="1"><stop offset="0" stop-color="#3232dc"/><stop offset="1" stop-color="#0000b4"/></linearGradient><linearGradient id="gsp" x1="0" y1="0" x2="0" y2="1"><stop offset="0" stop-color="#f4f4f4"/><stop offset="0.5" stop-color="#e0e0e0"/><stop offset="0.5" stop-color="#cfcfcf"/><stop offset="1" stop-color="#d8d8d8"/></linearGradient></defs>
<rect x="0" y="46" width="217" height="60" fill="#fff"/>
<rect x="0" y="47" width="48" height="25" fill="url(#gbtn)"/>
<rect x="163" y="47" width="52" height="25" fill="url(#gbtn)"/>
<rect x="0" y="71" width="105" height="33" fill="url(#gpan)"/>
<rect x="107" y="71" width="108" height="33" fill="url(#gpan)"/>
<rect x="0" y="71" width="44" height="1" fill="#7a7af0"/><rect x="167" y="71" width="45" height="1" fill="#7a7af0"/>
<rect x="50.5" y="47.5" width="110" height="21" fill="#fff" stroke="#b0b0b0"/>
<rect x="51.5" y="48.5" width="19" height="19" fill="url(#gsp)" stroke="#bdbdbd"/>
<rect x="140.5" y="48.5" width="19" height="19" fill="url(#gsp)" stroke="#bdbdbd"/>
<path d="M58,56 L64,56 L61,59 Z" fill="#4a5fc0"/><path d="M147,59 L153,59 L150,56 Z" fill="#4a5fc0"/>
<text x="136" y="62" font-size="12" fill="#000" text-anchor="end" textLength="23.5" lengthAdjust="spacingAndGlyphs" >1.00</text>
<text x="21.3" y="63" font-size="12.5" fill="#eeeeff" text-anchor="middle" textLength="25.5" lengthAdjust="spacingAndGlyphs" >SELL</text>
<text x="188.3" y="63" font-size="12.5" fill="#eeeeff" text-anchor="middle" textLength="23.5" lengthAdjust="spacingAndGlyphs" >BUY</text>
<text x="13" y="98.5" font-size="11.5" fill="#fff" font-weight="bold" textLength="33.5" lengthAdjust="spacingAndGlyphs" >35412</text>
<text x="122.5" y="98.5" font-size="11.5" fill="#fff" font-weight="bold" textLength="33.5" lengthAdjust="spacingAndGlyphs" >35420</text>
<rect x="51" y="95.5" width="3.6" height="3.4" fill="#fff"/><rect x="162.5" y="95.5" width="3.6" height="3.4" fill="#fff"/>
<text x="59" y="99" font-size="33" fill="#fff" textLength="14.5" lengthAdjust="spacingAndGlyphs" >5</text>
<text x="170.3" y="99" font-size="33" fill="#fff" textLength="14.5" lengthAdjust="spacingAndGlyphs" >5</text>
</g>
<g id="toolbar">
<defs>
<linearGradient id="gold" x1="0" y1="0" x2="1" y2="1"><stop offset="0" stop-color="#f6d860"/><stop offset="1" stop-color="#b8860b"/></linearGradient>
<linearGradient id="sky" x1="0" y1="0" x2="0" y2="1"><stop offset="0" stop-color="#6fb4f0"/><stop offset="1" stop-color="#2b7bd0"/></linearGradient>
<radialGradient id="badge" cx="0.4" cy="0.3" r="0.8"><stop offset="0" stop-color="#e8553a"/><stop offset="1" stop-color="#c8301c"/></radialGradient>
<radialGradient id="lens" cx="0.4" cy="0.35" r="0.7"><stop offset="0" stop-color="#e8f4ff"/><stop offset="1" stop-color="#7db4ec"/></radialGradient>
</defs>
<rect x="0" y="0" width="1698" height="23" fill="#f0f0f0"/>
<rect x="0" y="22" width="1698" height="1" fill="#f7f7f7"/>
<rect x="0" y="23" width="1697" height="1" fill="#a6a6a6"/>
<rect x="0" y="24" width="1697" height="1" fill="#666666"/>
<!-- partial magnifier at far left -->
<circle cx="-2" cy="10" r="5" fill="url(#lens)" stroke="#5b8fd0"/>
<path d="M1,14 L5,19" stroke="#d9a520" stroke-width="2.4" stroke-linecap="round"/>
<!-- separators -->
<g fill="#a8a8a8" shape-rendering="crispEdges">
<rect x="12" y="0" width="1" height="21"/><rect x="248" y="0" width="1" height="22"/><rect x="286" y="2" width="1" height="19"/><rect x="343" y="2" width="1" height="19"/><rect x="433" y="0" width="1" height="21"/>
<rect x="495" y="2" width="1" height="19"/><rect x="626" y="2" width="1" height="19"/><rect x="616" y="0" width="1" height="22"/><rect x="683" y="2" width="1" height="19"/>
<rect x="922" y="2" width="1" height="19"/><rect x="1072" y="2" width="1" height="19"/><rect x="1183" y="2" width="1" height="19"/>
</g>
<g fill="#b4b4b4" shape-rendering="crispEdges">
<path d="M252,1h3v1h-3zM252,3h3v1h-3zM252,5h3v1h-3zM252,7h3v1h-3zM252,9h3v1h-3zM252,11h3v1h-3zM252,13h3v1h-3zM252,15h3v1h-3zM252,17h3v1h-3zM252,19h3v1h-3z"/>
<path d="M620,3h3v1h-3zM620,5h3v1h-3zM620,7h3v1h-3zM620,9h3v1h-3zM620,11h3v1h-3zM620,13h3v1h-3zM620,15h3v1h-3zM620,17h3v1h-3zM620,19h3v1h-3z"/>
<path d="M926,3h3v1h-3zM926,5h3v1h-3zM926,7h3v1h-3zM926,9h3v1h-3zM926,11h3v1h-3zM926,13h3v1h-3zM926,15h3v1h-3zM926,17h3v1h-3zM926,19h3v1h-3z"/>
</g>
<!-- pressed button backgrounds -->
<g fill="#f7f7f7" stroke="#e6e6e6" shape-rendering="crispEdges">
<rect x="287.5" y="0.5" width="23" height="21"/><rect x="438.5" y="0.5" width="24" height="21"/><rect x="467.5" y="0.5" width="24" height="21"/>
<rect x="628.5" y="0.5" width="23" height="21"/><rect x="1073.5" y="0.5" width="23" height="21"/>
</g>
<!-- new order icon -->
<g id="ic-neworder">
<path d="M22.5,3.5 h9 l3,3 v10 h-12 z" fill="#fff" stroke="#707070"/>
<path d="M31.5,3.5 v3 h3" fill="none" stroke="#707070"/>
<path d="M25,6.5h4M25,9.5h7M25,12h5" stroke="#9a9a9a"/>
<path d="M29.5,9.5 h4 v3.5 h3.5 v4 h-3.5 v3.5 h-4 v-3.5 h-3.5 v-4 h3.5 z" fill="#22c32a" stroke="#0e8a16" stroke-width="0.8"/>
</g>
<text x="41" y="14.5" font-size="12" fill="#000" textLength="36" lengthAdjust="spacingAndGlyphs" font-family="Liberation Sans, Noto Sans CJK SC, sans-serif">新订单</text>
<!-- gold book -->
<path d="M95,4 L105,10 L98,18.5 L89,13 Z" fill="url(#gold)" stroke="#a87408" stroke-width="1"/>
<path d="M89,13 L98,18.5 L99.5,17" fill="none" stroke="#7a5204" stroke-width="1"/>
<!-- cloud/pc icon -->
<g id="ic-cloud">
<path d="M120,3.5 l10,0 l0,10 l-10,0 z" fill="url(#sky)" stroke="#2a70c0"/>
<path d="M123,6.5h5M123,9h5" stroke="#dff0ff"/>
<path d="M119,18.5 a3,3 0 0 1 0.5,-6 a4,4 0 0 1 7.5,-1 a3.5,3.5 0 0 1 5,3.5 a2.2,2.2 0 0 1 -1,3.5 z" fill="#eef3fb" stroke="#8aa4cc"/>
</g>
<!-- signal icon -->
<g id="ic-signal">
<circle cx="152.500" cy="11" r="7.800" fill="#e4eaf2" stroke="#a8bcd8" stroke-width="1.200"/>
<path d="M152.500,11 L152.500,18.800 A7.800,7.800 0 0 0 160.300,11 Z" fill="#8fc79a"/>
<circle cx="152.500" cy="11" r="5" fill="none" stroke="#6a9ad8" stroke-width="1.300"/>
<circle cx="152.500" cy="10.500" r="2" fill="#2f6fd0"/>
<path d="M153,11 L153,19" stroke="#28a038" stroke-width="1.800"/>
</g>
<!-- autotrading icon -->
<g id="ic-auto">
<path d="M173.500,9.500 l6.500,9 q3,1 5,-1 l2.500,-8 z" fill="#f4cf3e" stroke="#c89a1c" stroke-width="0.800"/>
<ellipse cx="180" cy="8" rx="8" ry="3" fill="#5e9ad8" stroke="#3a74b4" stroke-width="0.800"/>
<path d="M176,7.500 q0,-4.500 4,-4.500 q4,0 4,4.500 z" fill="#7fb2e6" stroke="#3a74b4" stroke-width="0.800"/>
<circle cx="184.500" cy="15" r="4.200" fill="#e02818" stroke="#a81808" stroke-width="0.600"/>
<rect x="182.800" y="13.300" width="3.400" height="3.400" fill="#fff"/>
</g>
<text x="193.5" y="14.5" font-size="12" fill="#000" textLength="47.5" lengthAdjust="spacingAndGlyphs" font-family="Liberation Sans, Noto Sans CJK SC, sans-serif">自动交易</text>
<!-- bar chart icon -->
<g id="ic-bars"><path d="M266.5,5v14M263,16.5h14M265.5,7l2,-2.5l2,2.5M275,14.5l2.5,2l-2.5,2" stroke="#505050" fill="none" shape-rendering="auto" stroke-width="1"/><path d="M273.5,6.500v8M273.500,7.500h2.500M271,13.500h2.500" stroke="#1e9a34" fill="none" stroke-width="1.200"/></g>
<!-- candle icon -->
<g id="ic-candles"><path d="M294.5,5v14M291,16.5h14M293.5,7l2,-2.5l2,2.5M303,14.5l2.5,2l-2.5,2" stroke="#505050" fill="none" shape-rendering="auto" stroke-width="1"/><path d="M300.500,3v12.500" stroke="#0a7a1a"/><rect x="298.500" y="6" width="4" height="6.500" fill="#2fd048" stroke="#0a7a1a"/></g>
<!-- line chart icon -->
<g id="ic-line"><path d="M322.5,5v14M319,16.5h14M321.5,7l2,-2.5l2,2.5M331,14.5l2.5,2l-2.5,2" stroke="#505050" fill="none" shape-rendering="auto" stroke-width="1"/><path d="M320.500,13.500 q4,-6.500 7,-5.500 q3,1 5.500,4.500" stroke="#2e9a3a" stroke-width="1.300" fill="none"/></g>
<!-- zoom in / out -->
<g id="ic-zoomin"><circle cx="358" cy="9" r="5.5" fill="url(#lens)" stroke="#3f7fd0" stroke-width="1.4"/><path d="M355,9h6M358,6v6" stroke="#2860c0" stroke-width="1.6"/><path d="M362,13.5l5.5,5.5" stroke="#d9a520" stroke-width="2.6" stroke-linecap="round"/></g>
<g id="ic-zoomout"><circle cx="386.5" cy="9" r="5.5" fill="url(#lens)" stroke="#3f7fd0" stroke-width="1.4"/><path d="M383.5,9h6" stroke="#2860c0" stroke-width="1.6"/><path d="M390.5,13.5l5.5,5.5" stroke="#d9a520" stroke-width="2.6" stroke-linecap="round"/></g>
<!-- tile icon -->
<g id="ic-tile" shape-rendering="crispEdges">
<rect x="408" y="3" width="8" height="8" fill="#58b030"/><rect x="416" y="3" width="8" height="8" fill="#2858c8"/>
<rect x="408" y="11" width="8" height="8" fill="#2858c8"/><rect x="416" y="11" width="8" height="8" fill="#58b030"/>
<path d="M409.500,7.500h5v2h-5zM417.500,7.500h5v2h-5zM409.500,15.500h5v2h-5zM417.500,15.500h5v2h-5z" fill="#eef6ff" stroke="none"/>
</g>
<!-- autoscroll / shift -->
<g id="ic-scroll"><path d="M446.5,5v14M443,16.5h14M445.5,7l2,-2.5l2,2.5M455,14.5l2.5,2l-2.5,2" stroke="#505050" fill="none" shape-rendering="auto" stroke-width="1"/><path d="M451.500,7.500l4,3l-4,3z" fill="#3fd050" stroke="#0a8a1a" stroke-width="0.800"/></g>
<g id="ic-shift"><path d="M474.5,5v14M471,16.5h14M473.5,7l2,-2.5l2,2.5M483,14.5l2.5,2l-2.5,2" stroke="#505050" fill="none" shape-rendering="auto" stroke-width="1"/><path d="M480.500,5v11" stroke="#2060c0" fill="none"/><path d="M487,10.500h-5M484.500,8l-2.500,2.500l2.500,2.500" stroke="#d03010" fill="none" stroke-width="1.200"/></g>
<!-- indicators icon -->
<g id="ic-indic">
<path d="M505.500,4.5h7l3,3v9h-10z" fill="#fff" stroke="#707070"/>
<path d="M508,8v6" stroke="#9a9a9a"/>
<path d="M512.500,10.500h4v3.500h3.500v4h-3.500v3.500h-4v-3.500h-3.500v-4h3.500z" fill="#22c32a" stroke="#0e8a16" stroke-width="0.8"/>
<path d="M527,10h5l-2.500,3z" fill="#000"/>
</g>
<!-- clock -->
<g id="ic-clock"><circle cx="551" cy="11" r="8" fill="#2f6fd0" stroke="#1a4aa0"/><circle cx="551" cy="11" r="5.500" fill="#f4f8ff"/><path d="M551,7v4.500h3" stroke="#404040" fill="none"/><path d="M566,10h5l-2.500,3z" fill="#000"/></g>
<!-- template -->
<g id="ic-templ"><rect x="582.500" y="3.500" width="16" height="14" fill="#fff" stroke="#3a70c0"/><rect x="582.500" y="3.500" width="16" height="3" fill="#3a78d8" stroke="#3a70c0"/><path d="M584,10l3,-1l3,1l3,-2l4,-1" stroke="#c03020" fill="none"/><path d="M584,15l3,-2l3,2l3,-1l4,1" stroke="#2e9a3a" fill="none"/><path d="M605,10h5l-2.500,3z" fill="#000"/></g>
<!-- cursor -->
<path d="M634.500,3.500 L634.500,17 L638,13.800 L640.500,19 L642.500,18 L640,13 L644.500,13 Z" fill="#404040"/>
<!-- crosshair -->
<path d="M666.500,4v6M666.500,13v6M659,11.500h6M668,11.500h6" stroke="#404040" shape-rendering="crispEdges" fill="none"/>
<!-- line tools -->
<g stroke="#505050" fill="none">
<path d="M700.500,5v12M723,11.500h12" shape-rendering="crispEdges"/>
<path d="M751,17.500L763,5.500"/>
<path d="M777,16l12,-9M777,12l12,-9M780,17.500l3,-12M784,15.500l3,-12" stroke-width="0.9"/>
<path d="M806,4.500h14M806,7.500h14M806,10.500h14M806,13.500h14" stroke-dasharray="1,1" shape-rendering="crispEdges"/>
<rect x="862.500" y="4.500" width="13" height="13" stroke-dasharray="1,1" shape-rendering="crispEdges"/>
</g>
<text x="788" y="20" font-size="7" font-weight="bold" fill="#404040">E</text>
<text x="817" y="20" font-size="7" font-weight="bold" fill="#404040">F</text>
<text x="836" y="16" font-size="12" font-weight="bold" fill="#5a5a5a" textLength="8.5" lengthAdjust="spacingAndGlyphs">A</text>
<text x="865.5" y="15.5" font-size="11" font-weight="bold" fill="#5a5a5a" textLength="7" lengthAdjust="spacingAndGlyphs">T</text>
<g id="ic-arrows" fill="#404040"><path d="M894,4.500l3.500,3.500l-3.500,3.500l-3.500,-3.500z"/><path d="M901,11l3.500,3.500l-3.500,3.500l-3.500,-3.500z"/><path d="M893,9l3,4.500l4,-3" stroke="#404040" fill="none" stroke-width="1.200"/><path d="M911,10h5l-2.500,3z" fill="#000"/></g>
<!-- timeframes -->
<g font-size="10" fill="#4a4a4a">
<text x="937" y="15" textLength="13" lengthAdjust="spacingAndGlyphs">M1</text>
<text x="965.500" y="15" textLength="12.500" lengthAdjust="spacingAndGlyphs">M5</text>
<text x="991.500" y="15" textLength="17.500" lengthAdjust="spacingAndGlyphs">M15</text>
<text x="1019" y="15" textLength="18" lengthAdjust="spacingAndGlyphs">M30</text>
<text x="1050.500" y="15" textLength="11.500" lengthAdjust="spacingAndGlyphs">H1</text>
<text x="1077.500" y="15" textLength="12.500" lengthAdjust="spacingAndGlyphs">H4</text>
<text x="1106.500" y="15" textLength="11.500" lengthAdjust="spacingAndGlyphs">D1</text>
<text x="1134" y="15" textLength="14.500" lengthAdjust="spacingAndGlyphs">W1</text>
<text x="1161" y="15" textLength="14" lengthAdjust="spacingAndGlyphs">MN</text>
</g>
<!-- right icons -->
<g id="ic-search"><circle cx="1654" cy="8" r="4" fill="#f4f8ff" stroke="#2a5fd0" stroke-width="1.300"/><path d="M1651,11.500l-5,5" stroke="#2a5fd0" stroke-width="2.200" stroke-linecap="round"/></g>
<g id="ic-chat"><path d="M1671,13a6,5 0 0 1 12,0a6,5 0 0 1 -7,4.500l-2,2.500l0,-3a6,5 0 0 1 -3,-4z" fill="#e4e7ec" stroke="#b8bcc4"/><circle cx="1684.500" cy="8.500" r="8.200" fill="url(#badge)"/><text x="1684.500" y="13" font-size="12" fill="#fff" text-anchor="middle">1</text></g>
</g>

</svg>
</body>
</html>
